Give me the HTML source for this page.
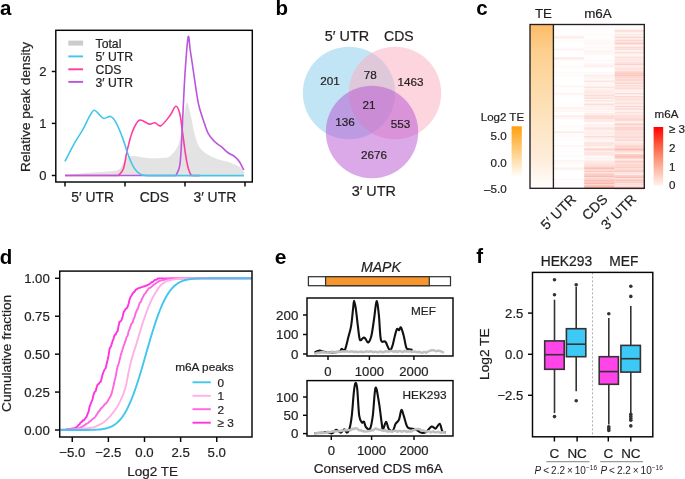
<!DOCTYPE html>
<html><head><meta charset="utf-8"><style>
html,body{margin:0;padding:0;background:#fff;width:685px;height:479px;overflow:hidden;}
svg{display:block;font-family:"Liberation Sans",sans-serif;will-change:transform;}
</style></head><body>
<svg width="685" height="479" viewBox="0 0 685 479" font-family="Liberation Sans, sans-serif"><text x="0.00" y="14.60" font-size="20.50" text-anchor="start" font-weight="bold" font-style="normal" fill="#000" >a</text>
<path d="M65.00,175.50 C65.17,175.35 63.43,174.95 66.00,174.60 C68.57,174.25 74.58,173.82 80.40,173.40 C86.22,172.98 95.38,172.48 100.90,172.10 C106.42,171.72 110.57,171.48 113.50,171.10 C116.43,170.72 117.20,170.48 118.50,169.80 C119.80,169.12 120.28,168.63 121.30,167.00 C122.32,165.37 123.40,161.70 124.60,160.00 C125.80,158.30 126.87,157.47 128.50,156.80 C130.13,156.13 130.82,155.75 134.40,156.00 C137.98,156.25 145.08,158.00 150.00,158.30 C154.92,158.60 160.67,158.10 163.90,157.80 C167.13,157.50 167.13,158.35 169.40,156.50 C171.67,154.65 175.33,151.58 177.50,146.70 C179.67,141.82 180.88,134.50 182.40,127.20 C183.92,119.90 185.25,105.05 186.60,102.90 C187.95,100.75 189.03,108.63 190.50,114.30 C191.97,119.97 193.52,130.97 195.40,136.90 C197.28,142.83 198.57,146.38 201.80,149.90 C205.03,153.42 209.93,155.83 214.80,158.00 C219.67,160.17 226.97,161.48 231.00,162.90 C235.03,164.32 236.87,165.07 239.00,166.50 C241.13,167.93 242.97,170.00 243.80,171.50 C244.63,173.00 243.97,174.83 244.00,175.50 Z" fill="#e3e3e3"/>
<path d="M65,175.5 L118.5,175.5 L118.50,175.40 C119.33,174.23 122.02,172.72 123.50,168.40 C124.98,164.08 125.92,155.62 127.40,149.50 C128.88,143.38 130.42,136.58 132.40,131.70 C134.38,126.82 136.50,121.47 139.30,120.20 C142.10,118.93 146.58,123.68 149.20,124.10 C151.82,124.52 153.05,122.43 155.00,122.70 C156.95,122.97 158.43,126.85 160.90,125.70 C163.37,124.55 167.32,119.03 169.80,115.80 C172.28,112.57 174.13,106.63 175.80,106.30 C177.47,105.97 178.65,109.23 179.80,113.80 C180.95,118.37 181.55,125.77 182.70,133.70 C183.85,141.63 185.40,154.65 186.70,161.40 C188.00,168.15 189.28,171.85 190.50,174.20 C191.72,176.55 192.42,175.28 194.00,175.50 C195.58,175.72 199.00,175.50 200.00,175.50" fill="none" stroke="#ff3d9e" stroke-width="1.60"/>
<path d="M65,175.5 L176,175.5 L176.00,175.50 C176.63,173.82 178.85,171.38 179.80,165.40 C180.75,159.42 181.08,150.27 181.70,139.60 C182.32,128.93 182.88,113.40 183.50,101.40 C184.12,89.40 184.62,78.37 185.40,67.60 C186.18,56.83 187.40,39.73 188.20,36.80 C189.00,33.87 189.55,45.73 190.20,50.00 C190.85,54.27 191.23,56.55 192.10,62.40 C192.97,68.25 194.32,78.08 195.40,85.10 C196.48,92.12 197.25,98.57 198.60,104.50 C199.95,110.43 201.88,115.83 203.50,120.70 C205.12,125.57 206.42,130.18 208.30,133.70 C210.18,137.22 212.63,139.63 214.80,141.80 C216.97,143.97 219.13,144.92 221.30,146.70 C223.47,148.48 225.63,150.88 227.80,152.50 C229.97,154.12 232.42,154.95 234.30,156.40 C236.18,157.85 237.52,158.93 239.10,161.20 C240.68,163.47 243.02,168.53 243.80,170.00" fill="none" stroke="#bb56dc" stroke-width="1.60"/>
<path d="M64.90,161.40 C66.55,158.27 71.82,147.88 74.80,142.60 C77.78,137.32 80.48,133.83 82.80,129.70 C85.12,125.57 86.88,121.02 88.70,117.80 C90.52,114.58 92.20,111.23 93.70,110.40 C95.20,109.57 96.05,111.47 97.70,112.80 C99.35,114.13 101.45,117.80 103.60,118.40 C105.75,119.00 108.62,115.85 110.60,116.40 C112.58,116.95 113.52,118.17 115.50,121.70 C117.48,125.23 120.35,131.97 122.50,137.60 C124.65,143.23 126.42,150.37 128.40,155.50 C130.38,160.63 132.42,165.27 134.40,168.40 C136.38,171.53 138.32,173.12 140.30,174.30 C142.28,175.48 143.02,175.28 146.30,175.50 C149.58,175.72 143.75,175.58 160.00,175.60 C176.25,175.62 229.83,175.60 243.80,175.60" fill="none" stroke="#41c6ec" stroke-width="1.60"/>
<rect x="55.80" y="30.30" width="196.50" height="151.70" fill="none" stroke="#050505" stroke-width="1.45" />
<line x1="51.80" y1="175.50" x2="55.80" y2="175.50" stroke="#050505" stroke-width="1.45" />
<text x="46.40" y="180.10" font-size="13.00" text-anchor="end" font-weight="normal" font-style="normal" fill="#231f20" stroke="#231f20" stroke-width="0.22" >0</text>
<line x1="51.80" y1="123.40" x2="55.80" y2="123.40" stroke="#050505" stroke-width="1.45" />
<text x="46.40" y="128.00" font-size="13.00" text-anchor="end" font-weight="normal" font-style="normal" fill="#231f20" stroke="#231f20" stroke-width="0.22" >1</text>
<line x1="51.80" y1="71.50" x2="55.80" y2="71.50" stroke="#050505" stroke-width="1.45" />
<text x="46.40" y="76.10" font-size="13.00" text-anchor="end" font-weight="normal" font-style="normal" fill="#231f20" stroke="#231f20" stroke-width="0.22" >2</text>
<line x1="65.00" y1="182.00" x2="65.00" y2="186.50" stroke="#050505" stroke-width="1.45" />
<line x1="125.00" y1="182.00" x2="125.00" y2="186.50" stroke="#050505" stroke-width="1.45" />
<line x1="185.00" y1="182.00" x2="185.00" y2="186.50" stroke="#050505" stroke-width="1.45" />
<line x1="245.00" y1="182.00" x2="245.00" y2="186.50" stroke="#050505" stroke-width="1.45" />
<text x="92.60" y="202.00" font-size="13.90" text-anchor="middle" font-weight="normal" font-style="normal" fill="#231f20" stroke="#231f20" stroke-width="0.22" >5′ UTR</text>
<text x="154.40" y="202.00" font-size="13.90" text-anchor="middle" font-weight="normal" font-style="normal" fill="#231f20" stroke="#231f20" stroke-width="0.22" >CDS</text>
<text x="214.80" y="202.00" font-size="13.90" text-anchor="middle" font-weight="normal" font-style="normal" fill="#231f20" stroke="#231f20" stroke-width="0.22" >3′ UTR</text>
<text x="0.00" y="0.00" font-size="13.70" text-anchor="middle" font-weight="normal" font-style="normal" fill="#231f20" stroke="#231f20" stroke-width="0.22" transform="translate(29.6,106.9) rotate(-90)">Relative peak density</text>
<rect x="68.30" y="40.60" width="14.80" height="5.00" fill="#cccccc" stroke="none" stroke-width="1.20" />
<line x1="68.30" y1="56.40" x2="83.10" y2="56.40" stroke="#41c6ec" stroke-width="1.90" />
<line x1="68.30" y1="69.30" x2="83.10" y2="69.30" stroke="#ff3d9e" stroke-width="1.90" />
<line x1="68.30" y1="81.90" x2="83.10" y2="81.90" stroke="#bb56dc" stroke-width="1.90" />
<text x="95.60" y="47.80" font-size="12.20" text-anchor="start" font-weight="normal" font-style="normal" fill="#231f20" stroke="#231f20" stroke-width="0.22" >Total</text>
<text x="95.60" y="60.60" font-size="12.20" text-anchor="start" font-weight="normal" font-style="normal" fill="#231f20" stroke="#231f20" stroke-width="0.22" >5′ UTR</text>
<text x="95.60" y="73.70" font-size="12.20" text-anchor="start" font-weight="normal" font-style="normal" fill="#231f20" stroke="#231f20" stroke-width="0.22" >CDS</text>
<text x="95.60" y="87.00" font-size="12.20" text-anchor="start" font-weight="normal" font-style="normal" fill="#231f20" stroke="#231f20" stroke-width="0.22" >3′ UTR</text>
<text x="275.50" y="14.50" font-size="20.50" text-anchor="start" font-weight="bold" font-style="normal" fill="#000" >b</text>
<circle cx="349" cy="93" r="46.2" fill="#85cbeb" fill-opacity="0.5"/>
<circle cx="395" cy="93" r="46.2" fill="#fbabbf" fill-opacity="0.5"/>
<circle cx="372" cy="132" r="46.2" fill="#b751d1" fill-opacity="0.5"/>
<text x="347.00" y="41.00" font-size="14.40" text-anchor="middle" font-weight="normal" font-style="normal" fill="#231f20" stroke="#231f20" stroke-width="0.22" >5′ UTR</text>
<text x="398.90" y="41.00" font-size="14.00" text-anchor="middle" font-weight="normal" font-style="normal" fill="#231f20" stroke="#231f20" stroke-width="0.22" >CDS</text>
<text x="373.80" y="196.00" font-size="14.40" text-anchor="middle" font-weight="normal" font-style="normal" fill="#231f20" stroke="#231f20" stroke-width="0.22" >3′ UTR</text>
<text x="330.10" y="84.50" font-size="11.70" text-anchor="middle" font-weight="normal" font-style="normal" fill="#231f20" stroke="#231f20" stroke-width="0.22" >201</text>
<text x="370.20" y="79.30" font-size="11.70" text-anchor="middle" font-weight="normal" font-style="normal" fill="#231f20" stroke="#231f20" stroke-width="0.22" >78</text>
<text x="410.50" y="86.30" font-size="11.70" text-anchor="middle" font-weight="normal" font-style="normal" fill="#231f20" stroke="#231f20" stroke-width="0.22" >1463</text>
<text x="369.00" y="108.70" font-size="11.70" text-anchor="middle" font-weight="normal" font-style="normal" fill="#231f20" stroke="#231f20" stroke-width="0.22" >21</text>
<text x="345.10" y="125.80" font-size="11.70" text-anchor="middle" font-weight="normal" font-style="normal" fill="#231f20" stroke="#231f20" stroke-width="0.22" >136</text>
<text x="400.60" y="128.00" font-size="11.70" text-anchor="middle" font-weight="normal" font-style="normal" fill="#231f20" stroke="#231f20" stroke-width="0.22" >553</text>
<text x="374.10" y="159.30" font-size="11.70" text-anchor="middle" font-weight="normal" font-style="normal" fill="#231f20" stroke="#231f20" stroke-width="0.22" >2676</text>
<text x="476.30" y="14.70" font-size="20.50" text-anchor="start" font-weight="bold" font-style="normal" fill="#000" >c</text>
<text x="543.50" y="18.20" font-size="13.40" text-anchor="middle" font-weight="normal" font-style="normal" fill="#231f20" stroke="#231f20" stroke-width="0.22" >TE</text>
<text x="598.00" y="18.20" font-size="13.40" text-anchor="middle" font-weight="normal" font-style="normal" fill="#231f20" stroke="#231f20" stroke-width="0.22" >m6A</text>
<defs><linearGradient id="teg" x1="0" y1="0" x2="0" y2="1"><stop offset="0" stop-color="#fdbb68"/><stop offset="0.16" stop-color="#fdcf8e"/><stop offset="0.5" stop-color="#fde0b6"/><stop offset="0.83" stop-color="#feeddb"/><stop offset="1" stop-color="#ffffff"/></linearGradient><linearGradient id="teleg" x1="0" y1="0" x2="0" y2="1"><stop offset="0" stop-color="#ff9f0a"/><stop offset="1" stop-color="#ffffff"/></linearGradient><linearGradient id="m6leg" x1="0" y1="0" x2="0" y2="1"><stop offset="0" stop-color="#ff0000"/><stop offset="0.3" stop-color="#fc5a3e"/><stop offset="0.62" stop-color="#fca58c"/><stop offset="1" stop-color="#fff1ec"/></linearGradient></defs>
<rect x="530.00" y="24.50" width="23.40" height="163.80" fill="url(#teg)" stroke="none" stroke-width="1.20" />
<rect x="553.50" y="24.50" width="30.70" height="1.05" fill="#fffcfc" stroke="none" stroke-width="1.20" />
<rect x="553.50" y="25.50" width="30.70" height="1.05" fill="#fffdfd" stroke="none" stroke-width="1.20" />
<rect x="553.50" y="26.50" width="30.70" height="2.05" fill="#fffefe" stroke="none" stroke-width="1.20" />
<rect x="553.50" y="28.50" width="30.70" height="2.05" fill="#fffdfd" stroke="none" stroke-width="1.20" />
<rect x="553.50" y="30.49" width="30.70" height="2.05" fill="#fffcfc" stroke="none" stroke-width="1.20" />
<rect x="553.50" y="32.49" width="30.70" height="1.05" fill="#fffdfd" stroke="none" stroke-width="1.20" />
<rect x="553.50" y="33.49" width="30.70" height="1.05" fill="#ffffff" stroke="none" stroke-width="1.20" />
<rect x="553.50" y="34.49" width="30.70" height="2.05" fill="#fffbfb" stroke="none" stroke-width="1.20" />
<rect x="553.50" y="36.49" width="30.70" height="2.05" fill="#feeae6" stroke="none" stroke-width="1.20" />
<rect x="553.50" y="38.48" width="30.70" height="1.05" fill="#fffbfa" stroke="none" stroke-width="1.20" />
<rect x="553.50" y="39.48" width="30.70" height="2.05" fill="#fffbfa" stroke="none" stroke-width="1.20" />
<rect x="553.50" y="41.48" width="30.70" height="2.05" fill="#ffffff" stroke="none" stroke-width="1.20" />
<rect x="553.50" y="43.48" width="30.70" height="2.05" fill="#ffffff" stroke="none" stroke-width="1.20" />
<rect x="553.50" y="45.47" width="30.70" height="1.05" fill="#ffffff" stroke="none" stroke-width="1.20" />
<rect x="553.50" y="46.47" width="30.70" height="1.05" fill="#fffcfc" stroke="none" stroke-width="1.20" />
<rect x="553.50" y="47.47" width="30.70" height="1.05" fill="#ffffff" stroke="none" stroke-width="1.20" />
<rect x="553.50" y="48.47" width="30.70" height="2.05" fill="#fef3f2" stroke="none" stroke-width="1.20" />
<rect x="553.50" y="50.47" width="30.70" height="2.05" fill="#ffffff" stroke="none" stroke-width="1.20" />
<rect x="553.50" y="52.47" width="30.70" height="1.05" fill="#fffefd" stroke="none" stroke-width="1.20" />
<rect x="553.50" y="53.46" width="30.70" height="2.05" fill="#ffffff" stroke="none" stroke-width="1.20" />
<rect x="553.50" y="55.46" width="30.70" height="2.05" fill="#ffffff" stroke="none" stroke-width="1.20" />
<rect x="553.50" y="57.46" width="30.70" height="2.05" fill="#fee8e5" stroke="none" stroke-width="1.20" />
<rect x="553.50" y="59.46" width="30.70" height="1.05" fill="#fff9f8" stroke="none" stroke-width="1.20" />
<rect x="553.50" y="60.46" width="30.70" height="1.05" fill="#fff7f6" stroke="none" stroke-width="1.20" />
<rect x="553.50" y="61.45" width="30.70" height="2.05" fill="#ffffff" stroke="none" stroke-width="1.20" />
<rect x="553.50" y="63.45" width="30.70" height="1.05" fill="#fffdfc" stroke="none" stroke-width="1.20" />
<rect x="553.50" y="64.45" width="30.70" height="1.05" fill="#fffefe" stroke="none" stroke-width="1.20" />
<rect x="553.50" y="65.45" width="30.70" height="1.05" fill="#fffefe" stroke="none" stroke-width="1.20" />
<rect x="553.50" y="66.45" width="30.70" height="1.05" fill="#fef3f1" stroke="none" stroke-width="1.20" />
<rect x="553.50" y="67.45" width="30.70" height="1.05" fill="#ffffff" stroke="none" stroke-width="1.20" />
<rect x="553.50" y="68.45" width="30.70" height="1.05" fill="#fffefe" stroke="none" stroke-width="1.20" />
<rect x="553.50" y="69.45" width="30.70" height="2.05" fill="#fffefe" stroke="none" stroke-width="1.20" />
<rect x="553.50" y="71.44" width="30.70" height="1.05" fill="#fffdfc" stroke="none" stroke-width="1.20" />
<rect x="553.50" y="72.44" width="30.70" height="1.05" fill="#fef7f5" stroke="none" stroke-width="1.20" />
<rect x="553.50" y="73.44" width="30.70" height="1.05" fill="#ffffff" stroke="none" stroke-width="1.20" />
<rect x="553.50" y="74.44" width="30.70" height="1.05" fill="#ffffff" stroke="none" stroke-width="1.20" />
<rect x="553.50" y="75.44" width="30.70" height="1.05" fill="#fff7f6" stroke="none" stroke-width="1.20" />
<rect x="553.50" y="76.44" width="30.70" height="1.05" fill="#ffffff" stroke="none" stroke-width="1.20" />
<rect x="553.50" y="77.44" width="30.70" height="2.05" fill="#ffffff" stroke="none" stroke-width="1.20" />
<rect x="553.50" y="79.43" width="30.70" height="1.05" fill="#fffefe" stroke="none" stroke-width="1.20" />
<rect x="553.50" y="80.43" width="30.70" height="1.05" fill="#ffffff" stroke="none" stroke-width="1.20" />
<rect x="553.50" y="81.43" width="30.70" height="2.05" fill="#ffffff" stroke="none" stroke-width="1.20" />
<rect x="553.50" y="83.43" width="30.70" height="2.05" fill="#ffffff" stroke="none" stroke-width="1.20" />
<rect x="553.50" y="85.43" width="30.70" height="2.05" fill="#fff7f6" stroke="none" stroke-width="1.20" />
<rect x="553.50" y="87.42" width="30.70" height="1.05" fill="#fffbfa" stroke="none" stroke-width="1.20" />
<rect x="553.50" y="88.42" width="30.70" height="1.05" fill="#fffefe" stroke="none" stroke-width="1.20" />
<rect x="553.50" y="89.42" width="30.70" height="1.05" fill="#ffffff" stroke="none" stroke-width="1.20" />
<rect x="553.50" y="90.42" width="30.70" height="2.05" fill="#ffffff" stroke="none" stroke-width="1.20" />
<rect x="553.50" y="92.42" width="30.70" height="1.05" fill="#ffffff" stroke="none" stroke-width="1.20" />
<rect x="553.50" y="93.42" width="30.70" height="1.05" fill="#fee8e5" stroke="none" stroke-width="1.20" />
<rect x="553.50" y="94.41" width="30.70" height="2.05" fill="#fffbfa" stroke="none" stroke-width="1.20" />
<rect x="553.50" y="96.41" width="30.70" height="1.05" fill="#ffffff" stroke="none" stroke-width="1.20" />
<rect x="553.50" y="97.41" width="30.70" height="1.05" fill="#ffffff" stroke="none" stroke-width="1.20" />
<rect x="553.50" y="98.41" width="30.70" height="1.05" fill="#ffffff" stroke="none" stroke-width="1.20" />
<rect x="553.50" y="99.41" width="30.70" height="2.05" fill="#ffffff" stroke="none" stroke-width="1.20" />
<rect x="553.50" y="101.41" width="30.70" height="1.05" fill="#fffefe" stroke="none" stroke-width="1.20" />
<rect x="553.50" y="102.40" width="30.70" height="1.05" fill="#ffffff" stroke="none" stroke-width="1.20" />
<rect x="553.50" y="103.40" width="30.70" height="2.05" fill="#fffbfb" stroke="none" stroke-width="1.20" />
<rect x="553.50" y="105.40" width="30.70" height="1.05" fill="#fffcfc" stroke="none" stroke-width="1.20" />
<rect x="553.50" y="106.40" width="30.70" height="1.05" fill="#fffcfb" stroke="none" stroke-width="1.20" />
<rect x="553.50" y="107.40" width="30.70" height="1.05" fill="#feece8" stroke="none" stroke-width="1.20" />
<rect x="553.50" y="108.40" width="30.70" height="1.05" fill="#fef4f2" stroke="none" stroke-width="1.20" />
<rect x="553.50" y="109.40" width="30.70" height="1.05" fill="#fef2f0" stroke="none" stroke-width="1.20" />
<rect x="553.50" y="110.40" width="30.70" height="1.05" fill="#fffbfb" stroke="none" stroke-width="1.20" />
<rect x="553.50" y="111.39" width="30.70" height="1.05" fill="#feefed" stroke="none" stroke-width="1.20" />
<rect x="553.50" y="112.39" width="30.70" height="2.05" fill="#ffffff" stroke="none" stroke-width="1.20" />
<rect x="553.50" y="114.39" width="30.70" height="1.05" fill="#ffffff" stroke="none" stroke-width="1.20" />
<rect x="553.50" y="115.39" width="30.70" height="2.05" fill="#feedea" stroke="none" stroke-width="1.20" />
<rect x="553.50" y="117.39" width="30.70" height="1.05" fill="#fffaf9" stroke="none" stroke-width="1.20" />
<rect x="553.50" y="118.39" width="30.70" height="1.05" fill="#fef1ef" stroke="none" stroke-width="1.20" />
<rect x="553.50" y="119.38" width="30.70" height="2.05" fill="#ffffff" stroke="none" stroke-width="1.20" />
<rect x="553.50" y="121.38" width="30.70" height="1.05" fill="#ffffff" stroke="none" stroke-width="1.20" />
<rect x="553.50" y="122.38" width="30.70" height="1.05" fill="#fffdfd" stroke="none" stroke-width="1.20" />
<rect x="553.50" y="123.38" width="30.70" height="1.05" fill="#ffffff" stroke="none" stroke-width="1.20" />
<rect x="553.50" y="124.38" width="30.70" height="2.05" fill="#fffefe" stroke="none" stroke-width="1.20" />
<rect x="553.50" y="126.38" width="30.70" height="1.05" fill="#fef4f3" stroke="none" stroke-width="1.20" />
<rect x="553.50" y="127.37" width="30.70" height="2.05" fill="#fffefd" stroke="none" stroke-width="1.20" />
<rect x="553.50" y="129.37" width="30.70" height="2.05" fill="#ffffff" stroke="none" stroke-width="1.20" />
<rect x="553.50" y="131.37" width="30.70" height="2.05" fill="#feeae7" stroke="none" stroke-width="1.20" />
<rect x="553.50" y="133.37" width="30.70" height="1.05" fill="#ffffff" stroke="none" stroke-width="1.20" />
<rect x="553.50" y="134.37" width="30.70" height="2.05" fill="#fffbfa" stroke="none" stroke-width="1.20" />
<rect x="553.50" y="136.36" width="30.70" height="2.05" fill="#fffcfb" stroke="none" stroke-width="1.20" />
<rect x="553.50" y="138.36" width="30.70" height="1.05" fill="#ffffff" stroke="none" stroke-width="1.20" />
<rect x="553.50" y="139.36" width="30.70" height="1.05" fill="#fff8f7" stroke="none" stroke-width="1.20" />
<rect x="553.50" y="140.36" width="30.70" height="1.05" fill="#ffffff" stroke="none" stroke-width="1.20" />
<rect x="553.50" y="141.36" width="30.70" height="1.05" fill="#ffffff" stroke="none" stroke-width="1.20" />
<rect x="553.50" y="142.36" width="30.70" height="1.05" fill="#ffffff" stroke="none" stroke-width="1.20" />
<rect x="553.50" y="143.35" width="30.70" height="1.05" fill="#fffdfd" stroke="none" stroke-width="1.20" />
<rect x="553.50" y="144.35" width="30.70" height="1.05" fill="#ffffff" stroke="none" stroke-width="1.20" />
<rect x="553.50" y="145.35" width="30.70" height="1.05" fill="#fef1ee" stroke="none" stroke-width="1.20" />
<rect x="553.50" y="146.35" width="30.70" height="1.05" fill="#fffbfa" stroke="none" stroke-width="1.20" />
<rect x="553.50" y="147.35" width="30.70" height="2.05" fill="#fffdfd" stroke="none" stroke-width="1.20" />
<rect x="553.50" y="149.35" width="30.70" height="1.05" fill="#fffcfc" stroke="none" stroke-width="1.20" />
<rect x="553.50" y="150.35" width="30.70" height="1.05" fill="#fffefe" stroke="none" stroke-width="1.20" />
<rect x="553.50" y="151.35" width="30.70" height="1.05" fill="#fff9f9" stroke="none" stroke-width="1.20" />
<rect x="553.50" y="152.34" width="30.70" height="1.05" fill="#ffffff" stroke="none" stroke-width="1.20" />
<rect x="553.50" y="153.34" width="30.70" height="2.05" fill="#ffffff" stroke="none" stroke-width="1.20" />
<rect x="553.50" y="155.34" width="30.70" height="1.05" fill="#fff8f7" stroke="none" stroke-width="1.20" />
<rect x="553.50" y="156.34" width="30.70" height="1.05" fill="#ffffff" stroke="none" stroke-width="1.20" />
<rect x="553.50" y="157.34" width="30.70" height="1.05" fill="#ffffff" stroke="none" stroke-width="1.20" />
<rect x="553.50" y="158.34" width="30.70" height="2.05" fill="#ffffff" stroke="none" stroke-width="1.20" />
<rect x="553.50" y="160.33" width="30.70" height="1.05" fill="#fef0ee" stroke="none" stroke-width="1.20" />
<rect x="553.50" y="161.33" width="30.70" height="2.05" fill="#fff8f7" stroke="none" stroke-width="1.20" />
<rect x="553.50" y="163.33" width="30.70" height="1.05" fill="#fef6f4" stroke="none" stroke-width="1.20" />
<rect x="553.50" y="164.33" width="30.70" height="1.05" fill="#ffffff" stroke="none" stroke-width="1.20" />
<rect x="553.50" y="165.33" width="30.70" height="2.05" fill="#fffefe" stroke="none" stroke-width="1.20" />
<rect x="553.50" y="167.33" width="30.70" height="1.05" fill="#fef2f0" stroke="none" stroke-width="1.20" />
<rect x="553.50" y="168.32" width="30.70" height="1.05" fill="#feedea" stroke="none" stroke-width="1.20" />
<rect x="553.50" y="169.32" width="30.70" height="1.05" fill="#fef2f0" stroke="none" stroke-width="1.20" />
<rect x="553.50" y="170.32" width="30.70" height="2.05" fill="#ffffff" stroke="none" stroke-width="1.20" />
<rect x="553.50" y="172.32" width="30.70" height="2.05" fill="#fffffe" stroke="none" stroke-width="1.20" />
<rect x="553.50" y="174.32" width="30.70" height="2.05" fill="#ffffff" stroke="none" stroke-width="1.20" />
<rect x="553.50" y="176.31" width="30.70" height="1.05" fill="#ffffff" stroke="none" stroke-width="1.20" />
<rect x="553.50" y="177.31" width="30.70" height="2.05" fill="#ffffff" stroke="none" stroke-width="1.20" />
<rect x="553.50" y="179.31" width="30.70" height="1.05" fill="#fef1ef" stroke="none" stroke-width="1.20" />
<rect x="553.50" y="180.31" width="30.70" height="2.05" fill="#ffffff" stroke="none" stroke-width="1.20" />
<rect x="553.50" y="182.31" width="30.70" height="2.05" fill="#fffaf9" stroke="none" stroke-width="1.20" />
<rect x="553.50" y="184.30" width="30.70" height="1.05" fill="#fffefe" stroke="none" stroke-width="1.20" />
<rect x="553.50" y="185.30" width="30.70" height="2.05" fill="#ffffff" stroke="none" stroke-width="1.20" />
<rect x="553.50" y="187.30" width="30.70" height="2.05" fill="#ffffff" stroke="none" stroke-width="1.20" />
<rect x="584.20" y="24.50" width="30.50" height="2.05" fill="#ffffff" stroke="none" stroke-width="1.20" />
<rect x="584.20" y="26.50" width="30.50" height="2.05" fill="#fffbfa" stroke="none" stroke-width="1.20" />
<rect x="584.20" y="28.50" width="30.50" height="2.05" fill="#fffefd" stroke="none" stroke-width="1.20" />
<rect x="584.20" y="30.49" width="30.50" height="1.05" fill="#fffefe" stroke="none" stroke-width="1.20" />
<rect x="584.20" y="31.49" width="30.50" height="2.05" fill="#fffefe" stroke="none" stroke-width="1.20" />
<rect x="584.20" y="33.49" width="30.50" height="1.05" fill="#fffcfc" stroke="none" stroke-width="1.20" />
<rect x="584.20" y="34.49" width="30.50" height="1.05" fill="#fffbfb" stroke="none" stroke-width="1.20" />
<rect x="584.20" y="35.49" width="30.50" height="1.05" fill="#fffafa" stroke="none" stroke-width="1.20" />
<rect x="584.20" y="36.49" width="30.50" height="1.05" fill="#fffdfc" stroke="none" stroke-width="1.20" />
<rect x="584.20" y="37.48" width="30.50" height="2.05" fill="#fffefe" stroke="none" stroke-width="1.20" />
<rect x="584.20" y="39.48" width="30.50" height="1.05" fill="#fffcfb" stroke="none" stroke-width="1.20" />
<rect x="584.20" y="40.48" width="30.50" height="1.05" fill="#fef7f5" stroke="none" stroke-width="1.20" />
<rect x="584.20" y="41.48" width="30.50" height="1.05" fill="#fef4f2" stroke="none" stroke-width="1.20" />
<rect x="584.20" y="42.48" width="30.50" height="1.05" fill="#fffcfc" stroke="none" stroke-width="1.20" />
<rect x="584.20" y="43.48" width="30.50" height="1.05" fill="#fef1ef" stroke="none" stroke-width="1.20" />
<rect x="584.20" y="44.48" width="30.50" height="1.05" fill="#fffefe" stroke="none" stroke-width="1.20" />
<rect x="584.20" y="45.47" width="30.50" height="2.05" fill="#fffbfa" stroke="none" stroke-width="1.20" />
<rect x="584.20" y="47.47" width="30.50" height="1.05" fill="#fef5f4" stroke="none" stroke-width="1.20" />
<rect x="584.20" y="48.47" width="30.50" height="2.05" fill="#fffcfb" stroke="none" stroke-width="1.20" />
<rect x="584.20" y="50.47" width="30.50" height="1.05" fill="#fef2ef" stroke="none" stroke-width="1.20" />
<rect x="584.20" y="51.47" width="30.50" height="1.05" fill="#fef0ee" stroke="none" stroke-width="1.20" />
<rect x="584.20" y="52.47" width="30.50" height="1.05" fill="#fef5f3" stroke="none" stroke-width="1.20" />
<rect x="584.20" y="53.46" width="30.50" height="1.05" fill="#fff8f7" stroke="none" stroke-width="1.20" />
<rect x="584.20" y="54.46" width="30.50" height="1.05" fill="#fef5f4" stroke="none" stroke-width="1.20" />
<rect x="584.20" y="55.46" width="30.50" height="2.05" fill="#ffffff" stroke="none" stroke-width="1.20" />
<rect x="584.20" y="57.46" width="30.50" height="1.05" fill="#fffcfb" stroke="none" stroke-width="1.20" />
<rect x="584.20" y="58.46" width="30.50" height="1.05" fill="#ffffff" stroke="none" stroke-width="1.20" />
<rect x="584.20" y="59.46" width="30.50" height="1.05" fill="#ffffff" stroke="none" stroke-width="1.20" />
<rect x="584.20" y="60.46" width="30.50" height="1.05" fill="#fef0ed" stroke="none" stroke-width="1.20" />
<rect x="584.20" y="61.45" width="30.50" height="2.05" fill="#ffffff" stroke="none" stroke-width="1.20" />
<rect x="584.20" y="63.45" width="30.50" height="1.05" fill="#fef4f2" stroke="none" stroke-width="1.20" />
<rect x="584.20" y="64.45" width="30.50" height="2.05" fill="#fef3f2" stroke="none" stroke-width="1.20" />
<rect x="584.20" y="66.45" width="30.50" height="1.05" fill="#fee9e5" stroke="none" stroke-width="1.20" />
<rect x="584.20" y="67.45" width="30.50" height="2.05" fill="#ffffff" stroke="none" stroke-width="1.20" />
<rect x="584.20" y="69.45" width="30.50" height="1.05" fill="#fffefe" stroke="none" stroke-width="1.20" />
<rect x="584.20" y="70.44" width="30.50" height="2.05" fill="#ffffff" stroke="none" stroke-width="1.20" />
<rect x="584.20" y="72.44" width="30.50" height="1.05" fill="#fef5f3" stroke="none" stroke-width="1.20" />
<rect x="584.20" y="73.44" width="30.50" height="1.05" fill="#ffffff" stroke="none" stroke-width="1.20" />
<rect x="584.20" y="74.44" width="30.50" height="1.05" fill="#feece9" stroke="none" stroke-width="1.20" />
<rect x="584.20" y="75.44" width="30.50" height="2.05" fill="#feeeec" stroke="none" stroke-width="1.20" />
<rect x="584.20" y="77.44" width="30.50" height="2.05" fill="#fef5f3" stroke="none" stroke-width="1.20" />
<rect x="584.20" y="79.43" width="30.50" height="1.05" fill="#fff8f7" stroke="none" stroke-width="1.20" />
<rect x="584.20" y="80.43" width="30.50" height="2.05" fill="#fde6e2" stroke="none" stroke-width="1.20" />
<rect x="584.20" y="82.43" width="30.50" height="1.05" fill="#fff7f6" stroke="none" stroke-width="1.20" />
<rect x="584.20" y="83.43" width="30.50" height="2.05" fill="#fff7f6" stroke="none" stroke-width="1.20" />
<rect x="584.20" y="85.43" width="30.50" height="1.05" fill="#fef5f3" stroke="none" stroke-width="1.20" />
<rect x="584.20" y="86.42" width="30.50" height="2.05" fill="#fde4e0" stroke="none" stroke-width="1.20" />
<rect x="584.20" y="88.42" width="30.50" height="1.05" fill="#fef7f5" stroke="none" stroke-width="1.20" />
<rect x="584.20" y="89.42" width="30.50" height="2.05" fill="#feece9" stroke="none" stroke-width="1.20" />
<rect x="584.20" y="91.42" width="30.50" height="2.05" fill="#fde6e2" stroke="none" stroke-width="1.20" />
<rect x="584.20" y="93.42" width="30.50" height="1.05" fill="#fef2f0" stroke="none" stroke-width="1.20" />
<rect x="584.20" y="94.41" width="30.50" height="2.05" fill="#fdddd8" stroke="none" stroke-width="1.20" />
<rect x="584.20" y="96.41" width="30.50" height="1.05" fill="#fee7e3" stroke="none" stroke-width="1.20" />
<rect x="584.20" y="97.41" width="30.50" height="2.05" fill="#fdded9" stroke="none" stroke-width="1.20" />
<rect x="584.20" y="99.41" width="30.50" height="1.05" fill="#fffbfa" stroke="none" stroke-width="1.20" />
<rect x="584.20" y="100.41" width="30.50" height="1.05" fill="#fddad5" stroke="none" stroke-width="1.20" />
<rect x="584.20" y="101.41" width="30.50" height="1.05" fill="#feedea" stroke="none" stroke-width="1.20" />
<rect x="584.20" y="102.40" width="30.50" height="1.05" fill="#fff8f7" stroke="none" stroke-width="1.20" />
<rect x="584.20" y="103.40" width="30.50" height="2.05" fill="#fdded9" stroke="none" stroke-width="1.20" />
<rect x="584.20" y="105.40" width="30.50" height="1.05" fill="#feedea" stroke="none" stroke-width="1.20" />
<rect x="584.20" y="106.40" width="30.50" height="1.05" fill="#feefed" stroke="none" stroke-width="1.20" />
<rect x="584.20" y="107.40" width="30.50" height="2.05" fill="#fef0ee" stroke="none" stroke-width="1.20" />
<rect x="584.20" y="109.40" width="30.50" height="1.05" fill="#feece9" stroke="none" stroke-width="1.20" />
<rect x="584.20" y="110.40" width="30.50" height="1.05" fill="#fff8f7" stroke="none" stroke-width="1.20" />
<rect x="584.20" y="111.39" width="30.50" height="1.05" fill="#feeeec" stroke="none" stroke-width="1.20" />
<rect x="584.20" y="112.39" width="30.50" height="1.05" fill="#fffaf9" stroke="none" stroke-width="1.20" />
<rect x="584.20" y="113.39" width="30.50" height="1.05" fill="#fde2dd" stroke="none" stroke-width="1.20" />
<rect x="584.20" y="114.39" width="30.50" height="1.05" fill="#feece9" stroke="none" stroke-width="1.20" />
<rect x="584.20" y="115.39" width="30.50" height="2.05" fill="#fdd7d1" stroke="none" stroke-width="1.20" />
<rect x="584.20" y="117.39" width="30.50" height="2.05" fill="#fdd9d3" stroke="none" stroke-width="1.20" />
<rect x="584.20" y="119.38" width="30.50" height="2.05" fill="#feebe8" stroke="none" stroke-width="1.20" />
<rect x="584.20" y="121.38" width="30.50" height="1.05" fill="#fde4e0" stroke="none" stroke-width="1.20" />
<rect x="584.20" y="122.38" width="30.50" height="2.05" fill="#fffcfb" stroke="none" stroke-width="1.20" />
<rect x="584.20" y="124.38" width="30.50" height="1.05" fill="#feeae7" stroke="none" stroke-width="1.20" />
<rect x="584.20" y="125.38" width="30.50" height="2.05" fill="#fef1ef" stroke="none" stroke-width="1.20" />
<rect x="584.20" y="127.37" width="30.50" height="2.05" fill="#fde3de" stroke="none" stroke-width="1.20" />
<rect x="584.20" y="129.37" width="30.50" height="1.05" fill="#fde4e0" stroke="none" stroke-width="1.20" />
<rect x="584.20" y="130.37" width="30.50" height="2.05" fill="#fef1ef" stroke="none" stroke-width="1.20" />
<rect x="584.20" y="132.37" width="30.50" height="2.05" fill="#feeae7" stroke="none" stroke-width="1.20" />
<rect x="584.20" y="134.37" width="30.50" height="2.05" fill="#fef3f1" stroke="none" stroke-width="1.20" />
<rect x="584.20" y="136.36" width="30.50" height="1.05" fill="#fcc9c1" stroke="none" stroke-width="1.20" />
<rect x="584.20" y="137.36" width="30.50" height="2.05" fill="#feeeec" stroke="none" stroke-width="1.20" />
<rect x="584.20" y="139.36" width="30.50" height="1.05" fill="#fef2ef" stroke="none" stroke-width="1.20" />
<rect x="584.20" y="140.36" width="30.50" height="2.05" fill="#fef6f5" stroke="none" stroke-width="1.20" />
<rect x="584.20" y="142.36" width="30.50" height="1.05" fill="#fddad5" stroke="none" stroke-width="1.20" />
<rect x="584.20" y="143.35" width="30.50" height="1.05" fill="#fdded8" stroke="none" stroke-width="1.20" />
<rect x="584.20" y="144.35" width="30.50" height="1.05" fill="#fddfd9" stroke="none" stroke-width="1.20" />
<rect x="584.20" y="145.35" width="30.50" height="1.05" fill="#fdddd7" stroke="none" stroke-width="1.20" />
<rect x="584.20" y="146.35" width="30.50" height="2.05" fill="#fef4f2" stroke="none" stroke-width="1.20" />
<rect x="584.20" y="148.35" width="30.50" height="1.05" fill="#fcd3cc" stroke="none" stroke-width="1.20" />
<rect x="584.20" y="149.35" width="30.50" height="1.05" fill="#fbc5bb" stroke="none" stroke-width="1.20" />
<rect x="584.20" y="150.35" width="30.50" height="1.05" fill="#fde2dd" stroke="none" stroke-width="1.20" />
<rect x="584.20" y="151.35" width="30.50" height="1.05" fill="#feeae7" stroke="none" stroke-width="1.20" />
<rect x="584.20" y="152.34" width="30.50" height="1.05" fill="#fdddd7" stroke="none" stroke-width="1.20" />
<rect x="584.20" y="153.34" width="30.50" height="1.05" fill="#fde0db" stroke="none" stroke-width="1.20" />
<rect x="584.20" y="154.34" width="30.50" height="1.05" fill="#fddad4" stroke="none" stroke-width="1.20" />
<rect x="584.20" y="155.34" width="30.50" height="1.05" fill="#feedeb" stroke="none" stroke-width="1.20" />
<rect x="584.20" y="156.34" width="30.50" height="2.05" fill="#fef7f5" stroke="none" stroke-width="1.20" />
<rect x="584.20" y="158.34" width="30.50" height="1.05" fill="#fef0ee" stroke="none" stroke-width="1.20" />
<rect x="584.20" y="159.34" width="30.50" height="1.05" fill="#fef6f4" stroke="none" stroke-width="1.20" />
<rect x="584.20" y="160.33" width="30.50" height="1.05" fill="#feeae6" stroke="none" stroke-width="1.20" />
<rect x="584.20" y="161.33" width="30.50" height="2.05" fill="#fde6e2" stroke="none" stroke-width="1.20" />
<rect x="584.20" y="163.33" width="30.50" height="2.05" fill="#fde1dc" stroke="none" stroke-width="1.20" />
<rect x="584.20" y="165.33" width="30.50" height="2.05" fill="#fdd7d1" stroke="none" stroke-width="1.20" />
<rect x="584.20" y="167.33" width="30.50" height="1.05" fill="#fbbaaf" stroke="none" stroke-width="1.20" />
<rect x="584.20" y="168.32" width="30.50" height="1.05" fill="#fab1a5" stroke="none" stroke-width="1.20" />
<rect x="584.20" y="169.32" width="30.50" height="2.05" fill="#fdd7d1" stroke="none" stroke-width="1.20" />
<rect x="584.20" y="171.32" width="30.50" height="1.05" fill="#fbb9ae" stroke="none" stroke-width="1.20" />
<rect x="584.20" y="172.32" width="30.50" height="1.05" fill="#fde5e1" stroke="none" stroke-width="1.20" />
<rect x="584.20" y="173.32" width="30.50" height="2.05" fill="#fccbc3" stroke="none" stroke-width="1.20" />
<rect x="584.20" y="175.32" width="30.50" height="2.05" fill="#fbbdb3" stroke="none" stroke-width="1.20" />
<rect x="584.20" y="177.31" width="30.50" height="2.05" fill="#fdd7d1" stroke="none" stroke-width="1.20" />
<rect x="584.20" y="179.31" width="30.50" height="2.05" fill="#fbc0b7" stroke="none" stroke-width="1.20" />
<rect x="584.20" y="181.31" width="30.50" height="1.05" fill="#fbc0b6" stroke="none" stroke-width="1.20" />
<rect x="584.20" y="182.31" width="30.50" height="2.05" fill="#fbbaaf" stroke="none" stroke-width="1.20" />
<rect x="584.20" y="184.30" width="30.50" height="1.05" fill="#fcd3cc" stroke="none" stroke-width="1.20" />
<rect x="584.20" y="185.30" width="30.50" height="2.05" fill="#fbb7ac" stroke="none" stroke-width="1.20" />
<rect x="584.20" y="187.30" width="30.50" height="1.05" fill="#f9a395" stroke="none" stroke-width="1.20" />
<rect x="614.70" y="24.50" width="29.60" height="1.05" fill="#fff9f8" stroke="none" stroke-width="1.20" />
<rect x="614.70" y="25.50" width="29.60" height="1.05" fill="#fff9f8" stroke="none" stroke-width="1.20" />
<rect x="614.70" y="26.50" width="29.60" height="1.05" fill="#fff9f8" stroke="none" stroke-width="1.20" />
<rect x="614.70" y="27.50" width="29.60" height="1.05" fill="#fff9f8" stroke="none" stroke-width="1.20" />
<rect x="614.70" y="28.50" width="29.60" height="1.05" fill="#fff9f8" stroke="none" stroke-width="1.20" />
<rect x="614.70" y="29.49" width="29.60" height="1.05" fill="#fee7e3" stroke="none" stroke-width="1.20" />
<rect x="614.70" y="30.49" width="29.60" height="1.05" fill="#fccec7" stroke="none" stroke-width="1.20" />
<rect x="614.70" y="31.49" width="29.60" height="1.05" fill="#fdded9" stroke="none" stroke-width="1.20" />
<rect x="614.70" y="32.49" width="29.60" height="2.05" fill="#fef5f3" stroke="none" stroke-width="1.20" />
<rect x="614.70" y="34.49" width="29.60" height="1.05" fill="#fdd9d3" stroke="none" stroke-width="1.20" />
<rect x="614.70" y="35.49" width="29.60" height="1.05" fill="#fef6f5" stroke="none" stroke-width="1.20" />
<rect x="614.70" y="36.49" width="29.60" height="2.05" fill="#fcd6cf" stroke="none" stroke-width="1.20" />
<rect x="614.70" y="38.48" width="29.60" height="1.05" fill="#fef5f3" stroke="none" stroke-width="1.20" />
<rect x="614.70" y="39.48" width="29.60" height="2.05" fill="#fdd8d2" stroke="none" stroke-width="1.20" />
<rect x="614.70" y="41.48" width="29.60" height="1.05" fill="#fddfda" stroke="none" stroke-width="1.20" />
<rect x="614.70" y="42.48" width="29.60" height="2.05" fill="#fccdc5" stroke="none" stroke-width="1.20" />
<rect x="614.70" y="44.48" width="29.60" height="1.05" fill="#fde0db" stroke="none" stroke-width="1.20" />
<rect x="614.70" y="45.47" width="29.60" height="1.05" fill="#fff9f8" stroke="none" stroke-width="1.20" />
<rect x="614.70" y="46.47" width="29.60" height="2.05" fill="#fdd9d3" stroke="none" stroke-width="1.20" />
<rect x="614.70" y="48.47" width="29.60" height="2.05" fill="#fde0db" stroke="none" stroke-width="1.20" />
<rect x="614.70" y="50.47" width="29.60" height="1.05" fill="#fef0ee" stroke="none" stroke-width="1.20" />
<rect x="614.70" y="51.47" width="29.60" height="1.05" fill="#fef1ee" stroke="none" stroke-width="1.20" />
<rect x="614.70" y="52.47" width="29.60" height="1.05" fill="#fbc3ba" stroke="none" stroke-width="1.20" />
<rect x="614.70" y="53.46" width="29.60" height="2.05" fill="#fef5f3" stroke="none" stroke-width="1.20" />
<rect x="614.70" y="55.46" width="29.60" height="1.05" fill="#fef2f0" stroke="none" stroke-width="1.20" />
<rect x="614.70" y="56.46" width="29.60" height="2.05" fill="#fde0db" stroke="none" stroke-width="1.20" />
<rect x="614.70" y="58.46" width="29.60" height="1.05" fill="#fee7e4" stroke="none" stroke-width="1.20" />
<rect x="614.70" y="59.46" width="29.60" height="1.05" fill="#fde2dd" stroke="none" stroke-width="1.20" />
<rect x="614.70" y="60.46" width="29.60" height="1.05" fill="#fde1dd" stroke="none" stroke-width="1.20" />
<rect x="614.70" y="61.45" width="29.60" height="2.05" fill="#fde4e0" stroke="none" stroke-width="1.20" />
<rect x="614.70" y="63.45" width="29.60" height="2.05" fill="#fcd2cb" stroke="none" stroke-width="1.20" />
<rect x="614.70" y="65.45" width="29.60" height="1.05" fill="#feefec" stroke="none" stroke-width="1.20" />
<rect x="614.70" y="66.45" width="29.60" height="1.05" fill="#fde5e1" stroke="none" stroke-width="1.20" />
<rect x="614.70" y="67.45" width="29.60" height="1.05" fill="#fde2de" stroke="none" stroke-width="1.20" />
<rect x="614.70" y="68.45" width="29.60" height="1.05" fill="#fdd7d1" stroke="none" stroke-width="1.20" />
<rect x="614.70" y="69.45" width="29.60" height="1.05" fill="#fddcd7" stroke="none" stroke-width="1.20" />
<rect x="614.70" y="70.44" width="29.60" height="1.05" fill="#fde6e2" stroke="none" stroke-width="1.20" />
<rect x="614.70" y="71.44" width="29.60" height="1.05" fill="#fcccc4" stroke="none" stroke-width="1.20" />
<rect x="614.70" y="72.44" width="29.60" height="2.05" fill="#fcc8bf" stroke="none" stroke-width="1.20" />
<rect x="614.70" y="74.44" width="29.60" height="2.05" fill="#fbc4bb" stroke="none" stroke-width="1.20" />
<rect x="614.70" y="76.44" width="29.60" height="2.05" fill="#fdd6d0" stroke="none" stroke-width="1.20" />
<rect x="614.70" y="78.43" width="29.60" height="2.05" fill="#fdd7d1" stroke="none" stroke-width="1.20" />
<rect x="614.70" y="80.43" width="29.60" height="1.05" fill="#fccbc3" stroke="none" stroke-width="1.20" />
<rect x="614.70" y="81.43" width="29.60" height="1.05" fill="#fee8e4" stroke="none" stroke-width="1.20" />
<rect x="614.70" y="82.43" width="29.60" height="1.05" fill="#fccec6" stroke="none" stroke-width="1.20" />
<rect x="614.70" y="83.43" width="29.60" height="1.05" fill="#fccac2" stroke="none" stroke-width="1.20" />
<rect x="614.70" y="84.43" width="29.60" height="1.05" fill="#feefed" stroke="none" stroke-width="1.20" />
<rect x="614.70" y="85.43" width="29.60" height="1.05" fill="#fcc6bd" stroke="none" stroke-width="1.20" />
<rect x="614.70" y="86.42" width="29.60" height="2.05" fill="#fde2de" stroke="none" stroke-width="1.20" />
<rect x="614.70" y="88.42" width="29.60" height="1.05" fill="#fcccc4" stroke="none" stroke-width="1.20" />
<rect x="614.70" y="89.42" width="29.60" height="1.05" fill="#feebe8" stroke="none" stroke-width="1.20" />
<rect x="614.70" y="90.42" width="29.60" height="1.05" fill="#fef2f0" stroke="none" stroke-width="1.20" />
<rect x="614.70" y="91.42" width="29.60" height="1.05" fill="#fde5e1" stroke="none" stroke-width="1.20" />
<rect x="614.70" y="92.42" width="29.60" height="1.05" fill="#fef5f4" stroke="none" stroke-width="1.20" />
<rect x="614.70" y="93.42" width="29.60" height="1.05" fill="#fbbfb5" stroke="none" stroke-width="1.20" />
<rect x="614.70" y="94.41" width="29.60" height="2.05" fill="#fef3f1" stroke="none" stroke-width="1.20" />
<rect x="614.70" y="96.41" width="29.60" height="1.05" fill="#fbc1b8" stroke="none" stroke-width="1.20" />
<rect x="614.70" y="97.41" width="29.60" height="2.05" fill="#fde5e1" stroke="none" stroke-width="1.20" />
<rect x="614.70" y="99.41" width="29.60" height="1.05" fill="#fcd1ca" stroke="none" stroke-width="1.20" />
<rect x="614.70" y="100.41" width="29.60" height="2.05" fill="#feebe8" stroke="none" stroke-width="1.20" />
<rect x="614.70" y="102.40" width="29.60" height="1.05" fill="#fde0db" stroke="none" stroke-width="1.20" />
<rect x="614.70" y="103.40" width="29.60" height="1.05" fill="#fcd1ca" stroke="none" stroke-width="1.20" />
<rect x="614.70" y="104.40" width="29.60" height="2.05" fill="#feeeec" stroke="none" stroke-width="1.20" />
<rect x="614.70" y="106.40" width="29.60" height="1.05" fill="#fbbfb4" stroke="none" stroke-width="1.20" />
<rect x="614.70" y="107.40" width="29.60" height="1.05" fill="#feeeec" stroke="none" stroke-width="1.20" />
<rect x="614.70" y="108.40" width="29.60" height="1.05" fill="#fcccc4" stroke="none" stroke-width="1.20" />
<rect x="614.70" y="109.40" width="29.60" height="1.05" fill="#fddcd6" stroke="none" stroke-width="1.20" />
<rect x="614.70" y="110.40" width="29.60" height="2.05" fill="#fef1ef" stroke="none" stroke-width="1.20" />
<rect x="614.70" y="112.39" width="29.60" height="1.05" fill="#fcd0c9" stroke="none" stroke-width="1.20" />
<rect x="614.70" y="113.39" width="29.60" height="1.05" fill="#feefec" stroke="none" stroke-width="1.20" />
<rect x="614.70" y="114.39" width="29.60" height="1.05" fill="#fde5e1" stroke="none" stroke-width="1.20" />
<rect x="614.70" y="115.39" width="29.60" height="1.05" fill="#fcd5cf" stroke="none" stroke-width="1.20" />
<rect x="614.70" y="116.39" width="29.60" height="2.05" fill="#fdddd7" stroke="none" stroke-width="1.20" />
<rect x="614.70" y="118.39" width="29.60" height="2.05" fill="#fcd4cd" stroke="none" stroke-width="1.20" />
<rect x="614.70" y="120.38" width="29.60" height="1.05" fill="#fcd0c9" stroke="none" stroke-width="1.20" />
<rect x="614.70" y="121.38" width="29.60" height="2.05" fill="#feefec" stroke="none" stroke-width="1.20" />
<rect x="614.70" y="123.38" width="29.60" height="2.05" fill="#fccec6" stroke="none" stroke-width="1.20" />
<rect x="614.70" y="125.38" width="29.60" height="1.05" fill="#fdddd8" stroke="none" stroke-width="1.20" />
<rect x="614.70" y="126.38" width="29.60" height="1.05" fill="#fdddd8" stroke="none" stroke-width="1.20" />
<rect x="614.70" y="127.37" width="29.60" height="1.05" fill="#fbc3ba" stroke="none" stroke-width="1.20" />
<rect x="614.70" y="128.37" width="29.60" height="2.05" fill="#fcd1ca" stroke="none" stroke-width="1.20" />
<rect x="614.70" y="130.37" width="29.60" height="1.05" fill="#fddbd5" stroke="none" stroke-width="1.20" />
<rect x="614.70" y="131.37" width="29.60" height="1.05" fill="#fddbd5" stroke="none" stroke-width="1.20" />
<rect x="614.70" y="132.37" width="29.60" height="2.05" fill="#fddcd7" stroke="none" stroke-width="1.20" />
<rect x="614.70" y="134.37" width="29.60" height="1.05" fill="#fdded9" stroke="none" stroke-width="1.20" />
<rect x="614.70" y="135.36" width="29.60" height="1.05" fill="#fdd7d1" stroke="none" stroke-width="1.20" />
<rect x="614.70" y="136.36" width="29.60" height="1.05" fill="#fcd3cc" stroke="none" stroke-width="1.20" />
<rect x="614.70" y="137.36" width="29.60" height="1.05" fill="#fccdc5" stroke="none" stroke-width="1.20" />
<rect x="614.70" y="138.36" width="29.60" height="2.05" fill="#fde1dc" stroke="none" stroke-width="1.20" />
<rect x="614.70" y="140.36" width="29.60" height="1.05" fill="#fcc7be" stroke="none" stroke-width="1.20" />
<rect x="614.70" y="141.36" width="29.60" height="2.05" fill="#feefec" stroke="none" stroke-width="1.20" />
<rect x="614.70" y="143.35" width="29.60" height="1.05" fill="#fddad5" stroke="none" stroke-width="1.20" />
<rect x="614.70" y="144.35" width="29.60" height="2.05" fill="#fddbd6" stroke="none" stroke-width="1.20" />
<rect x="614.70" y="146.35" width="29.60" height="1.05" fill="#fcc7bf" stroke="none" stroke-width="1.20" />
<rect x="614.70" y="147.35" width="29.60" height="1.05" fill="#fcd1c9" stroke="none" stroke-width="1.20" />
<rect x="614.70" y="148.35" width="29.60" height="2.05" fill="#fbbcb2" stroke="none" stroke-width="1.20" />
<rect x="614.70" y="150.35" width="29.60" height="1.05" fill="#fbc4bb" stroke="none" stroke-width="1.20" />
<rect x="614.70" y="151.35" width="29.60" height="1.05" fill="#fdd9d3" stroke="none" stroke-width="1.20" />
<rect x="614.70" y="152.34" width="29.60" height="1.05" fill="#fde2de" stroke="none" stroke-width="1.20" />
<rect x="614.70" y="153.34" width="29.60" height="1.05" fill="#feeeeb" stroke="none" stroke-width="1.20" />
<rect x="614.70" y="154.34" width="29.60" height="1.05" fill="#fbbcb2" stroke="none" stroke-width="1.20" />
<rect x="614.70" y="155.34" width="29.60" height="2.05" fill="#fbbeb3" stroke="none" stroke-width="1.20" />
<rect x="614.70" y="157.34" width="29.60" height="1.05" fill="#fbbaaf" stroke="none" stroke-width="1.20" />
<rect x="614.70" y="158.34" width="29.60" height="1.05" fill="#fccec7" stroke="none" stroke-width="1.20" />
<rect x="614.70" y="159.34" width="29.60" height="1.05" fill="#feedea" stroke="none" stroke-width="1.20" />
<rect x="614.70" y="160.33" width="29.60" height="1.05" fill="#fdd6d0" stroke="none" stroke-width="1.20" />
<rect x="614.70" y="161.33" width="29.60" height="1.05" fill="#fbc0b6" stroke="none" stroke-width="1.20" />
<rect x="614.70" y="162.33" width="29.60" height="1.05" fill="#fcd2cb" stroke="none" stroke-width="1.20" />
<rect x="614.70" y="163.33" width="29.60" height="1.05" fill="#fddbd5" stroke="none" stroke-width="1.20" />
<rect x="614.70" y="164.33" width="29.60" height="1.05" fill="#fccac2" stroke="none" stroke-width="1.20" />
<rect x="614.70" y="165.33" width="29.60" height="1.05" fill="#fccec6" stroke="none" stroke-width="1.20" />
<rect x="614.70" y="166.33" width="29.60" height="2.05" fill="#fccfc7" stroke="none" stroke-width="1.20" />
<rect x="614.70" y="168.32" width="29.60" height="1.05" fill="#fddad5" stroke="none" stroke-width="1.20" />
<rect x="614.70" y="169.32" width="29.60" height="2.05" fill="#fcd1ca" stroke="none" stroke-width="1.20" />
<rect x="614.70" y="171.32" width="29.60" height="1.05" fill="#fbbaaf" stroke="none" stroke-width="1.20" />
<rect x="614.70" y="172.32" width="29.60" height="2.05" fill="#fee7e3" stroke="none" stroke-width="1.20" />
<rect x="614.70" y="174.32" width="29.60" height="1.05" fill="#fee8e4" stroke="none" stroke-width="1.20" />
<rect x="614.70" y="175.32" width="29.60" height="1.05" fill="#fbc3b9" stroke="none" stroke-width="1.20" />
<rect x="614.70" y="176.31" width="29.60" height="2.05" fill="#fbbfb5" stroke="none" stroke-width="1.20" />
<rect x="614.70" y="178.31" width="29.60" height="1.05" fill="#fddfda" stroke="none" stroke-width="1.20" />
<rect x="614.70" y="179.31" width="29.60" height="2.05" fill="#fbc5bc" stroke="none" stroke-width="1.20" />
<rect x="614.70" y="181.31" width="29.60" height="2.05" fill="#fccdc5" stroke="none" stroke-width="1.20" />
<rect x="614.70" y="183.31" width="29.60" height="2.05" fill="#fdded8" stroke="none" stroke-width="1.20" />
<rect x="614.70" y="185.30" width="29.60" height="1.05" fill="#fde2de" stroke="none" stroke-width="1.20" />
<rect x="614.70" y="186.30" width="29.60" height="1.05" fill="#fcd1ca" stroke="none" stroke-width="1.20" />
<rect x="614.70" y="187.30" width="29.60" height="2.05" fill="#fbbaaf" stroke="none" stroke-width="1.20" />
<rect x="530.00" y="24.50" width="114.30" height="163.80" fill="none" stroke="#231f20" stroke-width="1.35" />
<line x1="553.40" y1="24.50" x2="553.40" y2="188.30" stroke="#231f20" stroke-width="1.35" />
<text x="0.00" y="0.00" font-size="13.90" text-anchor="end" font-weight="normal" font-style="normal" fill="#231f20" stroke="#231f20" stroke-width="0.22" transform="translate(576.80,200.20) rotate(-45)">5′ UTR</text>
<text x="0.00" y="0.00" font-size="13.90" text-anchor="end" font-weight="normal" font-style="normal" fill="#231f20" stroke="#231f20" stroke-width="0.22" transform="translate(608.50,200.20) rotate(-45)">CDS</text>
<text x="0.00" y="0.00" font-size="13.90" text-anchor="end" font-weight="normal" font-style="normal" fill="#231f20" stroke="#231f20" stroke-width="0.22" transform="translate(637.00,200.20) rotate(-45)">3′ UTR</text>
<text x="480.80" y="121.00" font-size="11.50" text-anchor="start" font-weight="normal" font-style="normal" fill="#231f20" stroke="#231f20" stroke-width="0.22" >Log2 TE</text>
<rect x="511.60" y="126.30" width="10.20" height="51.00" fill="url(#teleg)" stroke="none" stroke-width="1.20" />
<text x="506.60" y="140.30" font-size="11.60" text-anchor="end" font-weight="normal" font-style="normal" fill="#231f20" stroke="#231f20" stroke-width="0.22" >5.0</text>
<text x="506.60" y="166.70" font-size="11.60" text-anchor="end" font-weight="normal" font-style="normal" fill="#231f20" stroke="#231f20" stroke-width="0.22" >0.0</text>
<text x="506.60" y="192.60" font-size="11.60" text-anchor="end" font-weight="normal" font-style="normal" fill="#231f20" stroke="#231f20" stroke-width="0.22" >–5.0</text>
<text x="654.60" y="118.30" font-size="11.60" text-anchor="start" font-weight="normal" font-style="normal" fill="#231f20" stroke="#231f20" stroke-width="0.22" >m6A</text>
<rect x="653.60" y="127.00" width="9.60" height="58.40" fill="url(#m6leg)" stroke="none" stroke-width="1.20" />
<text x="668.90" y="133.30" font-size="11.60" text-anchor="start" font-weight="normal" font-style="normal" fill="#231f20" stroke="#231f20" stroke-width="0.22" >≥ 3</text>
<text x="668.90" y="152.20" font-size="11.60" text-anchor="start" font-weight="normal" font-style="normal" fill="#231f20" stroke="#231f20" stroke-width="0.22" >2</text>
<text x="668.90" y="171.00" font-size="11.60" text-anchor="start" font-weight="normal" font-style="normal" fill="#231f20" stroke="#231f20" stroke-width="0.22" >1</text>
<text x="668.90" y="189.40" font-size="11.60" text-anchor="start" font-weight="normal" font-style="normal" fill="#231f20" stroke="#231f20" stroke-width="0.22" >0</text>
<text x="-0.20" y="263.60" font-size="20.50" text-anchor="start" font-weight="bold" font-style="normal" fill="#000" >d</text>
<path d="M60.60,429.80 L61.60,429.79 L62.60,429.75 L63.60,429.73 L64.60,429.66 L65.60,429.59 L66.60,429.42 L67.60,429.35 L68.60,429.15 L69.60,429.03 L70.60,428.96 L71.60,428.63 L72.60,428.49 L73.60,428.46 L74.60,428.29 L75.60,427.67 L76.60,427.20 L77.60,426.18 L78.60,424.90 L79.60,424.33 L80.60,422.39 L81.60,422.23 L82.60,420.50 L83.60,420.54 L84.60,419.35 L85.60,417.81 L86.60,416.75 L87.60,413.84 L88.60,411.62 L89.60,406.58 L90.60,404.10 L91.60,401.73 L92.60,399.04 L93.60,394.63 L94.60,392.09 L95.60,391.20 L96.60,387.43 L97.60,384.56 L98.60,384.23 L99.60,382.35 L100.60,381.82 L101.60,378.86 L102.60,374.38 L103.60,371.74 L104.60,369.43 L105.60,368.39 L106.60,364.08 L107.60,360.02 L108.60,355.14 L109.60,348.65 L110.60,347.10 L111.60,344.35 L112.60,341.02 L113.60,338.57 L114.60,334.98 L115.60,334.63 L116.60,332.20 L117.60,331.19 L118.60,325.66 L119.60,321.57 L120.60,321.47 L121.60,319.96 L122.60,316.67 L123.60,312.26 L124.60,310.80 L125.60,308.75 L126.60,308.50 L127.60,306.86 L128.60,303.73 L129.60,299.49 L130.60,296.65 L131.60,295.54 L132.60,293.53 L133.60,292.45 L134.60,291.54 L135.60,289.86 L136.60,289.47 L137.60,288.67 L138.60,288.24 L139.60,287.78 L140.60,287.51 L141.60,287.15 L142.60,286.91 L143.60,286.53 L144.60,286.27 L145.60,285.76 L146.60,285.58 L147.60,284.95 L148.60,284.70 L149.60,284.07 L150.60,283.41 L151.60,282.19 L152.60,282.01 L153.60,281.15 L154.60,280.13 L155.60,279.84 L156.60,279.59 L157.60,278.65 L158.60,278.49 L159.60,278.43 L160.60,278.40 L161.60,278.40 L162.60,278.40 L163.60,278.40 L164.60,278.40 L165.60,278.40 L166.60,278.40 L167.60,278.40 L168.60,278.40 L169.60,278.40 L170.60,278.40 L171.60,278.40 L172.60,278.40 L173.60,278.40 L174.60,278.40 L175.60,278.40 L176.60,278.40 L177.60,278.40 L178.60,278.40 L179.60,278.40 L180.60,278.40 L181.60,278.40 L182.60,278.40 L183.60,278.40 L184.60,278.40 L185.60,278.40 L186.60,278.40 L187.60,278.40 L188.60,278.40 L189.60,278.40 L190.60,278.40 L191.60,278.40 L192.60,278.40 L193.60,278.40 L194.60,278.40 L195.60,278.40 L196.60,278.40 L197.60,278.40 L198.60,278.40 L199.60,278.40 L200.60,278.40 L201.60,278.40 L202.60,278.40 L203.60,278.40 L204.60,278.40 L205.60,278.40 L206.60,278.40 L207.60,278.40 L208.60,278.40 L209.60,278.40 L210.60,278.40 L211.60,278.40 L212.60,278.40 L213.60,278.40 L214.60,278.40 L215.60,278.40 L216.60,278.40 L217.60,278.40 L218.60,278.40 L219.60,278.40 L220.60,278.40 L221.60,278.40 L222.60,278.40 L223.60,278.40 L224.60,278.40 L225.60,278.40 L226.60,278.40 L227.60,278.40 L228.60,278.40 L229.60,278.40 L230.60,278.40 L231.60,278.40 L232.60,278.40 L233.60,278.40 L234.60,278.40 L235.60,278.40 L236.60,278.40 L237.60,278.40 L238.60,278.40 L239.60,278.40 L240.60,278.40 L241.60,278.40 L242.60,278.40 L243.60,278.40 L244.60,278.40 L245.60,278.40 L246.60,278.40 L247.60,278.40 L248.60,278.40 L249.60,278.40 L250.60,278.40 L251.60,278.40" fill="none" stroke="#ff33e0" stroke-width="1.9"/>
<path d="M60.60,429.90 L61.60,429.89 L62.60,429.88 L63.60,429.85 L64.60,429.83 L65.60,429.77 L66.60,429.70 L67.60,429.67 L68.60,429.56 L69.60,429.46 L70.60,429.43 L71.60,429.30 L72.60,429.17 L73.60,429.11 L74.60,429.03 L75.60,428.81 L76.60,428.76 L77.60,428.60 L78.60,428.18 L79.60,428.09 L80.60,427.54 L81.60,426.91 L82.60,426.59 L83.60,425.87 L84.60,425.15 L85.60,424.40 L86.60,423.77 L87.60,423.21 L88.60,422.61 L89.60,421.41 L90.60,421.12 L91.60,419.82 L92.60,418.96 L93.60,418.48 L94.60,417.59 L95.60,416.54 L96.60,414.88 L97.60,413.35 L98.60,411.50 L99.60,410.79 L100.60,408.95 L101.60,408.08 L102.60,406.94 L103.60,406.02 L104.60,404.27 L105.60,403.90 L106.60,402.71 L107.60,401.17 L108.60,399.47 L109.60,397.83 L110.60,396.03 L111.60,393.38 L112.60,389.78 L113.60,385.55 L114.60,380.38 L115.60,377.00 L116.60,371.36 L117.60,366.57 L118.60,363.97 L119.60,360.03 L120.60,355.85 L121.60,352.39 L122.60,349.33 L123.60,345.94 L124.60,343.38 L125.60,340.64 L126.60,336.96 L127.60,335.84 L128.60,331.27 L129.60,329.17 L130.60,325.93 L131.60,323.58 L132.60,322.62 L133.60,319.03 L134.60,317.22 L135.60,313.29 L136.60,310.66 L137.60,309.08 L138.60,306.52 L139.60,303.01 L140.60,302.28 L141.60,299.72 L142.60,297.58 L143.60,295.62 L144.60,293.86 L145.60,293.20 L146.60,291.36 L147.60,290.01 L148.60,288.57 L149.60,287.91 L150.60,287.67 L151.60,286.62 L152.60,285.75 L153.60,284.76 L154.60,284.17 L155.60,283.38 L156.60,282.57 L157.60,282.01 L158.60,281.36 L159.60,280.90 L160.60,280.62 L161.60,280.44 L162.60,280.03 L163.60,279.99 L164.60,279.54 L165.60,279.37 L166.60,279.14 L167.60,278.93 L168.60,278.77 L169.60,278.61 L170.60,278.52 L171.60,278.43 L172.60,278.42 L173.60,278.40 L174.60,278.40 L175.60,278.40 L176.60,278.40 L177.60,278.40 L178.60,278.40 L179.60,278.40 L180.60,278.40 L181.60,278.40 L182.60,278.40 L183.60,278.40 L184.60,278.40 L185.60,278.40 L186.60,278.40 L187.60,278.40 L188.60,278.40 L189.60,278.40 L190.60,278.40 L191.60,278.40 L192.60,278.40 L193.60,278.40 L194.60,278.40 L195.60,278.40 L196.60,278.40 L197.60,278.40 L198.60,278.40 L199.60,278.40 L200.60,278.40 L201.60,278.40 L202.60,278.40 L203.60,278.40 L204.60,278.40 L205.60,278.40 L206.60,278.40 L207.60,278.40 L208.60,278.40 L209.60,278.40 L210.60,278.40 L211.60,278.40 L212.60,278.40 L213.60,278.40 L214.60,278.40 L215.60,278.40 L216.60,278.40 L217.60,278.40 L218.60,278.40 L219.60,278.40 L220.60,278.40 L221.60,278.40 L222.60,278.40 L223.60,278.40 L224.60,278.40 L225.60,278.40 L226.60,278.40 L227.60,278.40 L228.60,278.40 L229.60,278.40 L230.60,278.40 L231.60,278.40 L232.60,278.40 L233.60,278.40 L234.60,278.40 L235.60,278.40 L236.60,278.40 L237.60,278.40 L238.60,278.40 L239.60,278.40 L240.60,278.40 L241.60,278.40 L242.60,278.40 L243.60,278.40 L244.60,278.40 L245.60,278.40 L246.60,278.40 L247.60,278.40 L248.60,278.40 L249.60,278.40 L250.60,278.40 L251.60,278.40" fill="none" stroke="#ff66e0" stroke-width="1.9"/>
<path d="M60.60,430.00 L61.60,430.00 L62.60,429.99 L63.60,429.98 L64.60,429.96 L65.60,429.93 L66.60,429.90 L67.60,429.87 L68.60,429.83 L69.60,429.79 L70.60,429.74 L71.60,429.69 L72.60,429.63 L73.60,429.56 L74.60,429.49 L75.60,429.42 L76.60,429.34 L77.60,429.26 L78.60,429.18 L79.60,429.08 L80.60,428.99 L81.60,428.89 L82.60,428.78 L83.60,428.68 L84.60,428.56 L85.60,428.45 L86.60,428.32 L87.60,428.20 L88.60,428.07 L89.60,427.94 L90.60,427.80 L91.60,427.65 L92.60,427.46 L93.60,427.21 L94.60,426.90 L95.60,426.54 L96.60,426.13 L97.60,425.69 L98.60,425.21 L99.60,424.70 L100.60,424.17 L101.60,423.61 L102.60,423.02 L103.60,422.35 L104.60,421.60 L105.60,420.78 L106.60,419.89 L107.60,418.93 L108.60,417.91 L109.60,416.82 L110.60,415.68 L111.60,414.48 L112.60,413.23 L113.60,411.93 L114.60,410.59 L115.60,409.17 L116.60,407.65 L117.60,406.02 L118.60,404.27 L119.60,402.37 L120.60,400.33 L121.60,398.12 L122.60,395.74 L123.60,393.16 L124.60,390.39 L125.60,386.97 L126.60,382.53 L127.60,377.49 L128.60,372.29 L129.60,367.36 L130.60,363.12 L131.60,359.44 L132.60,356.02 L133.60,352.78 L134.60,349.62 L135.60,346.47 L136.60,343.26 L137.60,339.93 L138.60,336.53 L139.60,333.12 L140.60,329.75 L141.60,326.47 L142.60,323.31 L143.60,320.32 L144.60,317.39 L145.60,314.54 L146.60,311.78 L147.60,309.14 L148.60,306.65 L149.60,304.32 L150.60,302.08 L151.60,299.94 L152.60,297.89 L153.60,295.96 L154.60,294.16 L155.60,292.50 L156.60,290.93 L157.60,289.40 L158.60,287.95 L159.60,286.61 L160.60,285.44 L161.60,284.45 L162.60,283.65 L163.60,282.89 L164.60,282.20 L165.60,281.60 L166.60,281.10 L167.60,280.73 L168.60,280.49 L169.60,280.27 L170.60,280.06 L171.60,279.87 L172.60,279.68 L173.60,279.51 L174.60,279.34 L175.60,279.19 L176.60,279.05 L177.60,278.92 L178.60,278.81 L179.60,278.71 L180.60,278.62 L181.60,278.55 L182.60,278.49 L183.60,278.44 L184.60,278.42 L185.60,278.40 L186.60,278.40 L187.60,278.40 L188.60,278.40 L189.60,278.40 L190.60,278.40 L191.60,278.40 L192.60,278.40 L193.60,278.40 L194.60,278.40 L195.60,278.40 L196.60,278.40 L197.60,278.40 L198.60,278.40 L199.60,278.40 L200.60,278.40 L201.60,278.40 L202.60,278.40 L203.60,278.40 L204.60,278.40 L205.60,278.40 L206.60,278.40 L207.60,278.40 L208.60,278.40 L209.60,278.40 L210.60,278.40 L211.60,278.40 L212.60,278.40 L213.60,278.40 L214.60,278.40 L215.60,278.40 L216.60,278.40 L217.60,278.40 L218.60,278.40 L219.60,278.40 L220.60,278.40 L221.60,278.40 L222.60,278.40 L223.60,278.40 L224.60,278.40 L225.60,278.40 L226.60,278.40 L227.60,278.40 L228.60,278.40 L229.60,278.40 L230.60,278.40 L231.60,278.40 L232.60,278.40 L233.60,278.40 L234.60,278.40 L235.60,278.40 L236.60,278.40 L237.60,278.40 L238.60,278.40 L239.60,278.40 L240.60,278.40 L241.60,278.40 L242.60,278.40 L243.60,278.40 L244.60,278.40 L245.60,278.40 L246.60,278.40 L247.60,278.40 L248.60,278.40 L249.60,278.40 L250.60,278.40 L251.60,278.40" fill="none" stroke="#ffb0e6" stroke-width="1.9"/>
<path d="M60.60,430.00 L61.60,430.00 L62.60,430.00 L63.60,430.00 L64.60,430.00 L65.60,430.00 L66.60,430.00 L67.60,430.00 L68.60,430.00 L69.60,430.00 L70.60,430.00 L71.60,430.00 L72.60,430.00 L73.60,430.00 L74.60,430.00 L75.60,430.00 L76.60,430.00 L77.60,429.99 L78.60,429.99 L79.60,429.99 L80.60,429.99 L81.60,429.98 L82.60,429.98 L83.60,429.98 L84.60,429.97 L85.60,429.96 L86.60,429.95 L87.60,429.94 L88.60,429.93 L89.60,429.91 L90.60,429.89 L91.60,429.87 L92.60,429.84 L93.60,429.81 L94.60,429.77 L95.60,429.72 L96.60,429.66 L97.60,429.60 L98.60,429.52 L99.60,429.43 L100.60,429.32 L101.60,429.20 L102.60,429.06 L103.60,428.89 L104.60,428.70 L105.60,428.48 L106.60,428.24 L107.60,427.95 L108.60,427.63 L109.60,427.26 L110.60,426.85 L111.60,426.39 L112.60,425.87 L113.60,425.29 L114.60,424.64 L115.60,423.92 L116.60,423.13 L117.60,422.25 L118.60,421.29 L119.60,420.24 L120.60,419.09 L121.60,417.84 L122.60,416.48 L123.60,415.02 L124.60,413.44 L125.60,411.74 L126.60,409.93 L127.60,408.00 L128.60,405.94 L129.60,403.77 L130.60,401.47 L131.60,399.05 L132.60,396.51 L133.60,393.86 L134.60,391.09 L135.60,388.22 L136.60,385.25 L137.60,382.19 L138.60,379.04 L139.60,375.81 L140.60,372.51 L141.60,369.16 L142.60,365.75 L143.60,362.31 L144.60,358.84 L145.60,355.35 L146.60,351.86 L147.60,348.38 L148.60,344.92 L149.60,341.49 L150.60,338.10 L151.60,334.76 L152.60,331.48 L153.60,328.28 L154.60,325.15 L155.60,322.12 L156.60,319.18 L157.60,316.34 L158.60,313.61 L159.60,310.99 L160.60,308.49 L161.60,306.11 L162.60,303.85 L163.60,301.71 L164.60,299.69 L165.60,297.79 L166.60,296.02 L167.60,294.36 L168.60,292.82 L169.60,291.38 L170.60,290.06 L171.60,288.84 L172.60,287.72 L173.60,286.70 L174.60,285.77 L175.60,284.92 L176.60,284.15 L177.60,283.45 L178.60,282.83 L179.60,282.26 L180.60,281.76 L181.60,281.32 L182.60,280.92 L183.60,280.57 L184.60,280.26 L185.60,279.98 L186.60,279.74 L187.60,279.54 L188.60,279.35 L189.60,279.20 L190.60,279.06 L191.60,278.94 L192.60,278.84 L193.60,278.75 L194.60,278.68 L195.60,278.62 L196.60,278.56 L197.60,278.52 L198.60,278.48 L199.60,278.45 L200.60,278.42 L201.60,278.40 L202.60,278.38 L203.60,278.37 L204.60,278.35 L205.60,278.34 L206.60,278.34 L207.60,278.33 L208.60,278.32 L209.60,278.32 L210.60,278.31 L211.60,278.31 L212.60,278.31 L213.60,278.31 L214.60,278.31 L215.60,278.30 L216.60,278.30 L217.60,278.30 L218.60,278.30 L219.60,278.30 L220.60,278.30 L221.60,278.30 L222.60,278.30 L223.60,278.30 L224.60,278.30 L225.60,278.30 L226.60,278.30 L227.60,278.30 L228.60,278.30 L229.60,278.30 L230.60,278.30 L231.60,278.30 L232.60,278.30 L233.60,278.30 L234.60,278.30 L235.60,278.30 L236.60,278.30 L237.60,278.30 L238.60,278.30 L239.60,278.30 L240.60,278.30 L241.60,278.30 L242.60,278.30 L243.60,278.30 L244.60,278.30 L245.60,278.30 L246.60,278.30 L247.60,278.30 L248.60,278.30 L249.60,278.30 L250.60,278.30 L251.60,278.30" fill="none" stroke="#41c6ec" stroke-width="1.9"/>
<rect x="59.70" y="271.10" width="192.30" height="165.90" fill="none" stroke="#050505" stroke-width="1.45" />
<line x1="55.00" y1="278.30" x2="59.70" y2="278.30" stroke="#050505" stroke-width="1.45" />
<text x="49.80" y="282.80" font-size="13.20" text-anchor="end" font-weight="normal" font-style="normal" fill="#231f20" stroke="#231f20" stroke-width="0.22" >1.00</text>
<line x1="55.00" y1="316.23" x2="59.70" y2="316.23" stroke="#050505" stroke-width="1.45" />
<text x="49.80" y="320.73" font-size="13.20" text-anchor="end" font-weight="normal" font-style="normal" fill="#231f20" stroke="#231f20" stroke-width="0.22" >0.75</text>
<line x1="55.00" y1="354.15" x2="59.70" y2="354.15" stroke="#050505" stroke-width="1.45" />
<text x="49.80" y="358.65" font-size="13.20" text-anchor="end" font-weight="normal" font-style="normal" fill="#231f20" stroke="#231f20" stroke-width="0.22" >0.50</text>
<line x1="55.00" y1="392.07" x2="59.70" y2="392.07" stroke="#050505" stroke-width="1.45" />
<text x="49.80" y="396.57" font-size="13.20" text-anchor="end" font-weight="normal" font-style="normal" fill="#231f20" stroke="#231f20" stroke-width="0.22" >0.25</text>
<line x1="55.00" y1="430.00" x2="59.70" y2="430.00" stroke="#050505" stroke-width="1.45" />
<text x="49.80" y="434.50" font-size="13.20" text-anchor="end" font-weight="normal" font-style="normal" fill="#231f20" stroke="#231f20" stroke-width="0.22" >0.00</text>
<line x1="72.25" y1="437.10" x2="72.25" y2="442.00" stroke="#050505" stroke-width="1.45" />
<text x="72.25" y="457.20" font-size="13.20" text-anchor="middle" font-weight="normal" font-style="normal" fill="#231f20" stroke="#231f20" stroke-width="0.22" >−5.0</text>
<line x1="108.38" y1="437.10" x2="108.38" y2="442.00" stroke="#050505" stroke-width="1.45" />
<text x="108.38" y="457.20" font-size="13.20" text-anchor="middle" font-weight="normal" font-style="normal" fill="#231f20" stroke="#231f20" stroke-width="0.22" >−2.5</text>
<line x1="144.50" y1="437.10" x2="144.50" y2="442.00" stroke="#050505" stroke-width="1.45" />
<text x="144.50" y="457.20" font-size="13.20" text-anchor="middle" font-weight="normal" font-style="normal" fill="#231f20" stroke="#231f20" stroke-width="0.22" >0.0</text>
<line x1="180.62" y1="437.10" x2="180.62" y2="442.00" stroke="#050505" stroke-width="1.45" />
<text x="180.62" y="457.20" font-size="13.20" text-anchor="middle" font-weight="normal" font-style="normal" fill="#231f20" stroke="#231f20" stroke-width="0.22" >2.5</text>
<line x1="216.75" y1="437.10" x2="216.75" y2="442.00" stroke="#050505" stroke-width="1.45" />
<text x="216.75" y="457.20" font-size="13.20" text-anchor="middle" font-weight="normal" font-style="normal" fill="#231f20" stroke="#231f20" stroke-width="0.22" >5.0</text>
<text x="0.00" y="0.00" font-size="13.70" text-anchor="middle" font-weight="normal" font-style="normal" fill="#231f20" stroke="#231f20" stroke-width="0.22" transform="translate(11.2,353.4) rotate(-90)">Cumulative fraction</text>
<text x="152.70" y="475.60" font-size="13.50" text-anchor="middle" font-weight="normal" font-style="normal" fill="#231f20" stroke="#231f20" stroke-width="0.22" >Log2 TE</text>
<text x="175.20" y="371.00" font-size="11.80" text-anchor="start" font-weight="normal" font-style="normal" fill="#231f20" stroke="#231f20" stroke-width="0.22" >m6A peaks</text>
<line x1="192.50" y1="382.30" x2="210.80" y2="382.30" stroke="#41c6ec" stroke-width="1.90" />
<text x="217.50" y="386.60" font-size="11.80" text-anchor="start" font-weight="normal" font-style="normal" fill="#231f20" stroke="#231f20" stroke-width="0.22" >0</text>
<line x1="192.50" y1="395.80" x2="210.80" y2="395.80" stroke="#ffb0e6" stroke-width="1.90" />
<text x="217.50" y="400.10" font-size="11.80" text-anchor="start" font-weight="normal" font-style="normal" fill="#231f20" stroke="#231f20" stroke-width="0.22" >1</text>
<line x1="192.50" y1="409.20" x2="210.80" y2="409.20" stroke="#ff66e0" stroke-width="1.90" />
<text x="217.50" y="413.50" font-size="11.80" text-anchor="start" font-weight="normal" font-style="normal" fill="#231f20" stroke="#231f20" stroke-width="0.22" >2</text>
<line x1="192.50" y1="422.70" x2="210.80" y2="422.70" stroke="#ff33e0" stroke-width="1.90" />
<text x="217.50" y="427.00" font-size="11.80" text-anchor="start" font-weight="normal" font-style="normal" fill="#231f20" stroke="#231f20" stroke-width="0.22" >≥ 3</text>
<text x="274.80" y="263.80" font-size="21.00" text-anchor="start" font-weight="bold" font-style="normal" fill="#000" >e</text>
<text x="380.90" y="271.80" font-size="14.10" text-anchor="middle" font-weight="normal" font-style="italic" fill="#231f20" stroke="#231f20" stroke-width="0.22" >MAPK</text>
<rect x="308.40" y="276.70" width="142.10" height="9.00" fill="#fff" stroke="#333" stroke-width="1.25" />
<rect x="325.60" y="276.70" width="103.70" height="9.00" fill="#f7962f" stroke="#333" stroke-width="1.25" />
<path d="M314.50,352.60 C314.92,352.37 316.10,351.53 317.00,351.20 C317.90,350.87 318.73,350.52 319.90,350.60 C321.07,350.68 321.97,351.40 324.00,351.70 C326.03,352.00 329.50,352.45 332.10,352.40 C334.70,352.35 338.02,351.98 339.60,351.40 C341.18,350.82 340.70,349.22 341.60,348.90 C342.50,348.58 343.87,351.48 345.00,349.50 C346.13,347.52 347.38,340.88 348.40,337.00 C349.42,333.12 350.32,330.93 351.10,326.20 C351.88,321.47 352.60,312.85 353.10,308.60 C353.60,304.35 353.65,300.70 354.10,300.70 C354.55,300.70 355.17,304.35 355.80,308.60 C356.43,312.85 357.22,321.02 357.90,326.20 C358.58,331.38 359.00,337.78 359.90,339.70 C360.80,341.62 362.40,337.92 363.30,337.70 C364.20,337.48 364.50,337.60 365.30,338.40 C366.10,339.20 367.08,342.95 368.10,342.50 C369.12,342.05 370.38,339.78 371.40,335.70 C372.42,331.62 373.33,323.77 374.20,318.00 C375.07,312.23 375.82,301.55 376.60,301.10 C377.38,300.65 378.18,308.87 378.90,315.30 C379.62,321.73 379.82,335.28 380.90,339.70 C381.98,344.12 383.97,340.10 385.40,341.80 C386.83,343.50 388.37,349.12 389.50,349.90 C390.63,350.68 391.30,348.87 392.20,346.50 C393.10,344.13 394.10,338.63 394.90,335.70 C395.70,332.77 396.32,329.80 397.00,328.90 C397.68,328.00 398.33,330.53 399.00,330.30 C399.67,330.07 400.22,326.60 401.00,327.50 C401.78,328.40 402.80,332.30 403.70,335.70 C404.60,339.10 405.48,345.65 406.40,347.90 C407.32,350.15 408.18,348.85 409.20,349.20 C410.22,349.55 411.95,349.87 412.50,350.00" fill="none" stroke="#111" stroke-width="2.1" stroke-linejoin="round"/>
<path d="M314.50,353.40 L315.70,353.60 L316.90,352.88 L318.10,352.74 L319.30,352.93 L320.50,352.47 L321.70,352.02 L322.90,352.51 L324.10,352.33 L325.30,352.43 L326.50,352.66 L327.70,352.00 L328.90,352.61 L330.10,352.44 L331.30,352.16 L332.50,351.49 L333.70,352.17 L334.90,352.49 L336.10,351.78 L337.30,351.69 L338.50,351.90 L339.70,351.53 L340.90,351.73 L342.10,351.34 L343.30,351.39 L344.50,351.35 L345.70,351.69 L346.90,351.09 L348.10,351.58 L349.30,351.92 L350.50,351.48 L351.70,351.49 L352.90,351.44 L354.10,352.12 L355.30,351.60 L356.50,351.84 L357.70,352.17 L358.90,351.86 L360.10,351.68 L361.30,351.42 L362.50,352.27 L363.70,352.04 L364.90,351.86 L366.10,351.25 L367.30,351.63 L368.50,351.76 L369.70,351.40 L370.90,351.32 L372.10,351.61 L373.30,352.22 L374.50,351.81 L375.70,351.75 L376.90,351.97 L378.10,352.43 L379.30,351.96 L380.50,351.22 L381.70,351.97 L382.90,352.32 L384.10,351.99 L385.30,351.32 L386.50,351.60 L387.70,351.45 L388.90,351.70 L390.10,351.09 L391.30,351.08 L392.50,351.25 L393.70,351.75 L394.90,351.54 L396.10,351.00 L397.30,351.97 L398.50,351.48 L399.70,350.94 L400.90,351.22 L402.10,351.96 L403.30,351.86 L404.50,350.78 L405.70,351.40 L406.90,351.27 L408.10,351.66 L409.30,350.95 L410.50,351.54 L411.70,351.97 L412.90,351.49 L414.10,351.72 L415.30,351.46 L416.50,351.83 L417.70,352.34 L418.90,351.67 L420.10,352.11 L421.30,352.74 L422.50,352.77 L423.70,351.96 L424.90,351.91 L426.10,352.90 L427.30,351.83 L428.50,351.46 L429.70,350.96 L430.90,350.39 L432.10,350.26 L433.30,350.19 L434.50,350.62 L435.70,351.24 L436.90,351.12 L438.10,350.65 L439.30,350.84 L440.50,351.22 L441.70,351.72 L442.90,352.17 L444.10,352.39" fill="none" stroke="#bfbfbf" stroke-width="2.5" stroke-linejoin="round"/>
<rect x="307.00" y="298.00" width="146.00" height="58.00" fill="none" stroke="#050505" stroke-width="1.45" />
<line x1="303.00" y1="315.00" x2="307.00" y2="315.00" stroke="#050505" stroke-width="1.45" />
<text x="298.30" y="319.50" font-size="13.30" text-anchor="end" font-weight="normal" font-style="normal" fill="#231f20" stroke="#231f20" stroke-width="0.22" >200</text>
<line x1="303.00" y1="334.50" x2="307.00" y2="334.50" stroke="#050505" stroke-width="1.45" />
<text x="298.30" y="339.00" font-size="13.30" text-anchor="end" font-weight="normal" font-style="normal" fill="#231f20" stroke="#231f20" stroke-width="0.22" >100</text>
<line x1="303.00" y1="354.00" x2="307.00" y2="354.00" stroke="#050505" stroke-width="1.45" />
<text x="298.30" y="358.50" font-size="13.30" text-anchor="end" font-weight="normal" font-style="normal" fill="#231f20" stroke="#231f20" stroke-width="0.22" >0</text>
<line x1="328.00" y1="356.00" x2="328.00" y2="360.00" stroke="#050505" stroke-width="1.45" />
<text x="328.00" y="376.10" font-size="13.10" text-anchor="middle" font-weight="normal" font-style="normal" fill="#231f20" stroke="#231f20" stroke-width="0.22" >0</text>
<line x1="369.40" y1="356.00" x2="369.40" y2="360.00" stroke="#050505" stroke-width="1.45" />
<text x="369.40" y="376.10" font-size="13.10" text-anchor="middle" font-weight="normal" font-style="normal" fill="#231f20" stroke="#231f20" stroke-width="0.22" >1000</text>
<line x1="413.90" y1="356.00" x2="413.90" y2="360.00" stroke="#050505" stroke-width="1.45" />
<text x="413.90" y="376.10" font-size="13.10" text-anchor="middle" font-weight="normal" font-style="normal" fill="#231f20" stroke="#231f20" stroke-width="0.22" >2000</text>
<text x="411.00" y="315.20" font-size="11.80" text-anchor="start" font-weight="normal" font-style="normal" fill="#231f20" stroke="#231f20" stroke-width="0.22" >MEF</text>
<path d="M314.50,433.30 C315.42,433.22 317.97,433.02 320.00,432.80 C322.03,432.58 324.68,431.92 326.70,432.00 C328.72,432.08 330.52,433.65 332.10,433.30 C333.68,432.95 334.73,430.02 336.20,429.90 C337.67,429.78 339.55,432.72 340.90,432.60 C342.25,432.48 343.28,429.20 344.30,429.20 C345.32,429.20 346.10,432.82 347.00,432.60 C347.90,432.38 348.90,430.72 349.70,427.90 C350.50,425.08 351.12,421.58 351.80,415.70 C352.48,409.82 353.20,398.03 353.80,392.60 C354.40,387.17 354.83,383.77 355.40,383.10 C355.97,382.43 356.57,383.17 357.20,388.60 C357.83,394.03 358.40,410.05 359.20,415.70 C360.00,421.35 361.20,421.48 362.00,422.50 C362.80,423.52 363.33,421.02 364.00,421.80 C364.67,422.58 364.98,426.07 366.00,427.20 C367.02,428.33 368.97,430.52 370.10,428.60 C371.23,426.68 371.90,422.48 372.80,415.70 C373.70,408.92 374.48,390.17 375.50,387.90 C376.52,385.63 377.88,396.33 378.90,402.10 C379.92,407.87 380.92,417.98 381.60,422.50 C382.28,427.02 382.25,429.32 383.00,429.20 C383.75,429.08 385.13,421.80 386.10,421.80 C387.07,421.80 387.67,427.73 388.80,429.20 C389.93,430.67 391.77,431.50 392.90,430.60 C394.03,429.70 394.58,425.62 395.60,423.80 C396.62,421.98 398.03,422.00 399.00,419.70 C399.97,417.40 400.62,410.67 401.40,410.00 C402.18,409.33 402.75,412.95 403.70,415.70 C404.65,418.45 405.97,424.35 407.10,426.50 C408.23,428.65 409.13,428.15 410.50,428.60 C411.87,429.05 413.60,428.53 415.30,429.20 C417.00,429.87 418.90,432.13 420.70,432.60 C422.50,433.07 424.30,433.02 426.10,432.00 C427.90,430.98 429.92,427.07 431.50,426.50 C433.08,425.93 434.23,429.05 435.60,428.60 C436.97,428.15 438.57,423.35 439.70,423.80 C440.83,424.25 441.38,429.83 442.40,431.30 C443.42,432.77 445.23,432.38 445.80,432.60" fill="none" stroke="#111" stroke-width="2.1" stroke-linejoin="round"/>
<path d="M314.50,433.22 L315.70,433.40 L316.90,433.02 L318.10,432.94 L319.30,433.08 L320.50,433.33 L321.70,432.16 L322.90,432.31 L324.10,433.01 L325.30,432.86 L326.50,432.59 L327.70,431.64 L328.90,432.17 L330.10,432.04 L331.30,431.83 L332.50,431.54 L333.70,431.30 L334.90,431.54 L336.10,431.14 L337.30,431.35 L338.50,431.44 L339.70,431.02 L340.90,431.10 L342.10,430.21 L343.30,430.82 L344.50,430.51 L345.70,429.97 L346.90,430.35 L348.10,429.99 L349.30,430.11 L350.50,430.17 L351.70,429.35 L352.90,428.69 L354.10,429.03 L355.30,428.13 L356.50,428.47 L357.70,428.85 L358.90,430.21 L360.10,430.18 L361.30,430.55 L362.50,431.17 L363.70,431.34 L364.90,431.52 L366.10,431.41 L367.30,431.37 L368.50,431.29 L369.70,430.92 L370.90,430.58 L372.10,430.01 L373.30,430.31 L374.50,429.20 L375.70,428.30 L376.90,429.15 L378.10,429.60 L379.30,429.64 L380.50,429.78 L381.70,430.38 L382.90,430.34 L384.10,431.07 L385.30,430.12 L386.50,431.13 L387.70,431.72 L388.90,430.99 L390.10,431.46 L391.30,431.25 L392.50,431.71 L393.70,430.98 L394.90,430.61 L396.10,430.85 L397.30,431.78 L398.50,430.91 L399.70,430.96 L400.90,431.31 L402.10,431.74 L403.30,431.13 L404.50,430.84 L405.70,431.20 L406.90,431.84 L408.10,431.18 L409.30,431.42 L410.50,431.45 L411.70,431.44 L412.90,430.18 L414.10,430.14 L415.30,429.11 L416.50,429.26 L417.70,428.93 L418.90,429.08 L420.10,429.20 L421.30,430.57 L422.50,430.64 L423.70,430.56 L424.90,431.16 L426.10,431.52 L427.30,431.41 L428.50,431.15 L429.70,431.74 L430.90,432.44 L432.10,431.73 L433.30,431.31 L434.50,432.22 L435.70,432.29 L436.90,432.20 L438.10,431.73 L439.30,432.14 L440.50,432.80 L441.70,432.52 L442.90,432.16 L444.10,431.95 L445.30,433.13" fill="none" stroke="#bfbfbf" stroke-width="2.5" stroke-linejoin="round"/>
<rect x="307.00" y="380.60" width="146.00" height="55.40" fill="none" stroke="#050505" stroke-width="1.45" />
<line x1="303.00" y1="397.00" x2="307.00" y2="397.00" stroke="#050505" stroke-width="1.45" />
<text x="298.30" y="401.50" font-size="13.30" text-anchor="end" font-weight="normal" font-style="normal" fill="#231f20" stroke="#231f20" stroke-width="0.22" >100</text>
<line x1="303.00" y1="415.30" x2="307.00" y2="415.30" stroke="#050505" stroke-width="1.45" />
<text x="298.30" y="419.80" font-size="13.30" text-anchor="end" font-weight="normal" font-style="normal" fill="#231f20" stroke="#231f20" stroke-width="0.22" >50</text>
<line x1="303.00" y1="433.60" x2="307.00" y2="433.60" stroke="#050505" stroke-width="1.45" />
<text x="298.30" y="438.10" font-size="13.30" text-anchor="end" font-weight="normal" font-style="normal" fill="#231f20" stroke="#231f20" stroke-width="0.22" >0</text>
<line x1="331.30" y1="436.00" x2="331.30" y2="440.00" stroke="#050505" stroke-width="1.45" />
<text x="331.30" y="455.10" font-size="13.10" text-anchor="middle" font-weight="normal" font-style="normal" fill="#231f20" stroke="#231f20" stroke-width="0.22" >0</text>
<line x1="371.60" y1="436.00" x2="371.60" y2="440.00" stroke="#050505" stroke-width="1.45" />
<text x="371.60" y="455.10" font-size="13.10" text-anchor="middle" font-weight="normal" font-style="normal" fill="#231f20" stroke="#231f20" stroke-width="0.22" >1000</text>
<line x1="414.00" y1="436.00" x2="414.00" y2="440.00" stroke="#050505" stroke-width="1.45" />
<text x="414.00" y="455.10" font-size="13.10" text-anchor="middle" font-weight="normal" font-style="normal" fill="#231f20" stroke="#231f20" stroke-width="0.22" >2000</text>
<text x="402.60" y="398.80" font-size="11.80" text-anchor="start" font-weight="normal" font-style="normal" fill="#231f20" stroke="#231f20" stroke-width="0.22" >HEK293</text>
<text x="378.20" y="473.20" font-size="13.50" text-anchor="middle" font-weight="normal" font-style="normal" fill="#231f20" stroke="#231f20" stroke-width="0.22" >Conserved CDS m6A</text>
<text x="476.30" y="263.20" font-size="20.50" text-anchor="start" font-weight="bold" font-style="normal" fill="#000" >f</text>
<text x="566.40" y="265.90" font-size="13.80" text-anchor="middle" font-weight="normal" font-style="normal" fill="#231f20" stroke="#231f20" stroke-width="0.22" >HEK293</text>
<text x="623.80" y="265.90" font-size="13.80" text-anchor="middle" font-weight="normal" font-style="normal" fill="#231f20" stroke="#231f20" stroke-width="0.22" >MEF</text>
<line x1="592.50" y1="272.40" x2="592.50" y2="436.80" stroke="#9a9a9a" stroke-width="0.80" stroke-dasharray="2,2"/>
<line x1="554.50" y1="299.70" x2="554.50" y2="340.90" stroke="#333333" stroke-width="1.60" />
<line x1="554.50" y1="369.30" x2="554.50" y2="413.10" stroke="#333333" stroke-width="1.60" />
<rect x="544.70" y="340.90" width="19.50" height="28.40" fill="#ff44ea" stroke="#333333" stroke-width="1.60" />
<line x1="544.70" y1="354.70" x2="564.20" y2="354.70" stroke="#333333" stroke-width="1.60" />
<circle cx="554.50" cy="279.70" r="1.8" fill="#333333"/>
<circle cx="554.50" cy="294.70" r="1.8" fill="#333333"/>
<circle cx="554.50" cy="416.60" r="1.8" fill="#333333"/>
<line x1="576.20" y1="286.70" x2="576.20" y2="328.70" stroke="#333333" stroke-width="1.60" />
<line x1="576.20" y1="356.70" x2="576.20" y2="391.20" stroke="#333333" stroke-width="1.60" />
<rect x="566.40" y="328.70" width="19.40" height="28.00" fill="#3dc9f5" stroke="#333333" stroke-width="1.60" />
<line x1="566.40" y1="344.20" x2="585.80" y2="344.20" stroke="#333333" stroke-width="1.60" />
<circle cx="576.20" cy="284.70" r="1.8" fill="#333333"/>
<circle cx="576.20" cy="400.70" r="1.8" fill="#333333"/>
<line x1="608.80" y1="318.10" x2="608.80" y2="356.70" stroke="#333333" stroke-width="1.60" />
<line x1="608.80" y1="384.30" x2="608.80" y2="424.40" stroke="#333333" stroke-width="1.60" />
<rect x="599.20" y="356.70" width="19.20" height="27.60" fill="#ff44ea" stroke="#333333" stroke-width="1.60" />
<line x1="599.20" y1="371.60" x2="618.40" y2="371.60" stroke="#333333" stroke-width="1.60" />
<circle cx="608.80" cy="313.80" r="1.8" fill="#333333"/>
<circle cx="608.80" cy="426.80" r="1.8" fill="#333333"/>
<circle cx="608.80" cy="428.60" r="1.8" fill="#333333"/>
<circle cx="608.80" cy="430.40" r="1.8" fill="#333333"/>
<line x1="630.80" y1="305.90" x2="630.80" y2="345.40" stroke="#333333" stroke-width="1.60" />
<line x1="630.80" y1="372.10" x2="630.80" y2="413.00" stroke="#333333" stroke-width="1.60" />
<rect x="620.90" y="345.40" width="19.50" height="26.70" fill="#3dc9f5" stroke="#333333" stroke-width="1.60" />
<line x1="620.90" y1="358.70" x2="640.40" y2="358.70" stroke="#333333" stroke-width="1.60" />
<circle cx="630.80" cy="286.20" r="1.8" fill="#333333"/>
<circle cx="630.80" cy="296.40" r="1.8" fill="#333333"/>
<circle cx="630.80" cy="414.30" r="1.8" fill="#333333"/>
<circle cx="630.80" cy="416.40" r="1.8" fill="#333333"/>
<circle cx="630.80" cy="418.50" r="1.8" fill="#333333"/>
<circle cx="630.80" cy="420.30" r="1.8" fill="#333333"/>
<circle cx="630.80" cy="425.90" r="1.8" fill="#333333"/>
<rect x="532.50" y="272.40" width="120.30" height="164.40" fill="none" stroke="#050505" stroke-width="1.45" />
<line x1="528.00" y1="313.10" x2="532.50" y2="313.10" stroke="#050505" stroke-width="1.45" />
<text x="523.30" y="317.60" font-size="13.10" text-anchor="end" font-weight="normal" font-style="normal" fill="#231f20" stroke="#231f20" stroke-width="0.22" >2.5</text>
<line x1="528.00" y1="354.30" x2="532.50" y2="354.30" stroke="#050505" stroke-width="1.45" />
<text x="523.30" y="358.80" font-size="13.10" text-anchor="end" font-weight="normal" font-style="normal" fill="#231f20" stroke="#231f20" stroke-width="0.22" >0.0</text>
<line x1="528.00" y1="395.30" x2="532.50" y2="395.30" stroke="#050505" stroke-width="1.45" />
<text x="523.30" y="399.80" font-size="13.10" text-anchor="end" font-weight="normal" font-style="normal" fill="#231f20" stroke="#231f20" stroke-width="0.22" >−2.5</text>
<text x="0.00" y="0.00" font-size="13.70" text-anchor="middle" font-weight="normal" font-style="normal" fill="#231f20" stroke="#231f20" stroke-width="0.22" transform="translate(489.4,354.2) rotate(-90)">Log2 TE</text>
<line x1="554.40" y1="436.80" x2="554.40" y2="441.50" stroke="#050505" stroke-width="1.45" />
<text x="554.40" y="458.20" font-size="13.40" text-anchor="middle" font-weight="normal" font-style="normal" fill="#231f20" stroke="#231f20" stroke-width="0.22" >C</text>
<line x1="577.10" y1="436.80" x2="577.10" y2="441.50" stroke="#050505" stroke-width="1.45" />
<text x="577.10" y="458.20" font-size="13.40" text-anchor="middle" font-weight="normal" font-style="normal" fill="#231f20" stroke="#231f20" stroke-width="0.22" >NC</text>
<line x1="608.30" y1="436.80" x2="608.30" y2="441.50" stroke="#050505" stroke-width="1.45" />
<text x="608.30" y="458.20" font-size="13.40" text-anchor="middle" font-weight="normal" font-style="normal" fill="#231f20" stroke="#231f20" stroke-width="0.22" >C</text>
<line x1="630.80" y1="436.80" x2="630.80" y2="441.50" stroke="#050505" stroke-width="1.45" />
<text x="630.80" y="458.20" font-size="13.40" text-anchor="middle" font-weight="normal" font-style="normal" fill="#231f20" stroke="#231f20" stroke-width="0.22" >NC</text>
<line x1="546.30" y1="461.70" x2="589.50" y2="461.70" stroke="#9a9a9a" stroke-width="1.30" />
<line x1="600.20" y1="461.70" x2="643.00" y2="461.70" stroke="#9a9a9a" stroke-width="1.30" />
<text x="534.60" y="473.7" font-size="10" fill="#231f20" textLength="62.5" lengthAdjust="spacing"><tspan font-style="italic">P</tspan> &lt; 2.2 × 10<tspan font-size="6.6" dy="-3.6">−16</tspan></text>
<text x="600.40" y="473.7" font-size="10" fill="#231f20" textLength="62.5" lengthAdjust="spacing"><tspan font-style="italic">P</tspan> &lt; 2.2 × 10<tspan font-size="6.6" dy="-3.6">−16</tspan></text></svg>
</body></html>
